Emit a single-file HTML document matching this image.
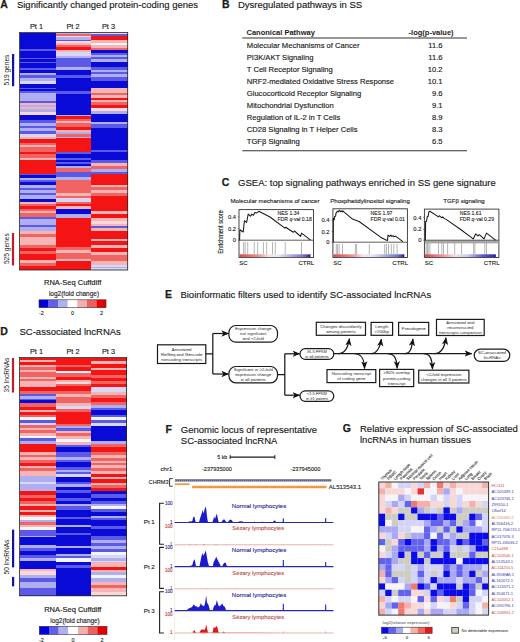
<!DOCTYPE html>
<html><head><meta charset="utf-8"><title>Figure</title>
<style>html,body{margin:0;padding:0;background:#fff;width:520px;height:642px;overflow:hidden;font-family:"Liberation Sans",sans-serif} svg{display:block}</style>
</head><body>
<svg width="520" height="642" viewBox="0 0 520 642" font-family="Liberation Sans, sans-serif"><text transform="translate(0.3,8.2)" font-size="10.5" font-weight="700" text-anchor="start" fill="#1a1a1a" stroke="#1a1a1a" stroke-width="0.25">A</text>
<text transform="translate(16.9,8.3)" font-size="9.5" font-weight="400" text-anchor="start" fill="#1a1a1a" stroke="#1a1a1a" stroke-width="0.15" >Significantly changed protein-coding genes</text>
<text transform="translate(36.5,28.8)" font-size="7.4" font-weight="400" text-anchor="middle" fill="#1a1a1a" stroke="#1a1a1a" stroke-width="0.14800000000000002" >Pt 1</text>
<text transform="translate(73,28.8)" font-size="7.4" font-weight="400" text-anchor="middle" fill="#1a1a1a" stroke="#1a1a1a" stroke-width="0.14800000000000002" >Pt 2</text>
<text transform="translate(108.5,28.8)" font-size="7.4" font-weight="400" text-anchor="middle" fill="#1a1a1a" stroke="#1a1a1a" stroke-width="0.14800000000000002" >Pt 3</text>
<rect x="19.5" y="32.5" width="36.2" height="16.7" fill="#0a0ad6" shape-rendering="crispEdges"/>
<rect x="19.5" y="49.2" width="36.2" height="1.8" fill="#5a5ae6" shape-rendering="crispEdges"/>
<rect x="19.5" y="51" width="36.2" height="6.8" fill="#0a0ad6" shape-rendering="crispEdges"/>
<rect x="19.5" y="57.8" width="36.2" height="1.2" fill="#5a5ae6" shape-rendering="crispEdges"/>
<rect x="19.5" y="59" width="36.2" height="3.2" fill="#0a0ad6" shape-rendering="crispEdges"/>
<rect x="19.5" y="62.2" width="36.2" height="1.0" fill="#5a5ae6" shape-rendering="crispEdges"/>
<rect x="19.5" y="63.2" width="36.2" height="4.3" fill="#0a0ad6" shape-rendering="crispEdges"/>
<rect x="19.5" y="67.5" width="36.2" height="2.2" fill="#5a5ae6" shape-rendering="crispEdges"/>
<rect x="19.5" y="69.7" width="36.2" height="3.3" fill="#0a0ad6" shape-rendering="crispEdges"/>
<rect x="19.5" y="73" width="36.2" height="2" fill="#aeaef0" shape-rendering="crispEdges"/>
<rect x="19.5" y="75" width="36.2" height="2.7" fill="#5a5ae6" shape-rendering="crispEdges"/>
<rect x="19.5" y="77.7" width="36.2" height="3.4" fill="#aeaef0" shape-rendering="crispEdges"/>
<rect x="19.5" y="81.1" width="36.2" height="2.6" fill="#d8d8f6" shape-rendering="crispEdges"/>
<rect x="19.5" y="83.7" width="36.2" height="3.9" fill="#0a0ad6" shape-rendering="crispEdges"/>
<rect x="19.5" y="87.6" width="36.2" height="1.4" fill="#5a5ae6" shape-rendering="crispEdges"/>
<rect x="19.5" y="89" width="36.2" height="2" fill="#0a0ad6" shape-rendering="crispEdges"/>
<rect x="19.5" y="91" width="36.2" height="2.2" fill="#5a5ae6" shape-rendering="crispEdges"/>
<rect x="19.5" y="93.2" width="36.2" height="7.5" fill="#aeaef0" shape-rendering="crispEdges"/>
<rect x="19.5" y="100.7" width="36.2" height="2.1" fill="#5a5ae6" shape-rendering="crispEdges"/>
<rect x="19.5" y="102.8" width="36.2" height="2.2" fill="#f6b4b4" shape-rendering="crispEdges"/>
<rect x="19.5" y="105" width="36.2" height="2.2" fill="#aeaef0" shape-rendering="crispEdges"/>
<rect x="19.5" y="107.2" width="36.2" height="2.1" fill="#f6b4b4" shape-rendering="crispEdges"/>
<rect x="19.5" y="109.3" width="36.2" height="2.2" fill="#aeaef0" shape-rendering="crispEdges"/>
<rect x="19.5" y="111.5" width="36.2" height="3.2" fill="#f8d8d8" shape-rendering="crispEdges"/>
<rect x="19.5" y="114.7" width="36.2" height="5.3" fill="#0a0ad6" shape-rendering="crispEdges"/>
<rect x="19.5" y="120" width="36.2" height="3.3" fill="#5a5ae6" shape-rendering="crispEdges"/>
<rect x="19.5" y="123.3" width="36.2" height="2.2" fill="#aeaef0" shape-rendering="crispEdges"/>
<rect x="19.5" y="125.5" width="36.2" height="2.1" fill="#5a5ae6" shape-rendering="crispEdges"/>
<rect x="19.5" y="127.6" width="36.2" height="3.2" fill="#aeaef0" shape-rendering="crispEdges"/>
<rect x="19.5" y="130.8" width="36.2" height="3.2" fill="#5a5ae6" shape-rendering="crispEdges"/>
<rect x="19.5" y="134" width="36.2" height="2.7" fill="#d8d8f6" shape-rendering="crispEdges"/>
<rect x="19.5" y="136.7" width="36.2" height="2.1" fill="#f6b4b4" shape-rendering="crispEdges"/>
<rect x="19.5" y="138.8" width="36.2" height="3.9" fill="#f41414" shape-rendering="crispEdges"/>
<rect x="19.5" y="142.7" width="36.2" height="2.1" fill="#f06464" shape-rendering="crispEdges"/>
<rect x="19.5" y="144.8" width="36.2" height="2.6" fill="#f6b4b4" shape-rendering="crispEdges"/>
<rect x="19.5" y="147.4" width="36.2" height="2.6" fill="#f06464" shape-rendering="crispEdges"/>
<rect x="19.5" y="150" width="36.2" height="2.2" fill="#f06464" shape-rendering="crispEdges"/>
<rect x="19.5" y="152.2" width="36.2" height="2.1" fill="#f41414" shape-rendering="crispEdges"/>
<rect x="19.5" y="154.3" width="36.2" height="3.2" fill="#f06464" shape-rendering="crispEdges"/>
<rect x="19.5" y="157.5" width="36.2" height="2.2" fill="#f6b4b4" shape-rendering="crispEdges"/>
<rect x="19.5" y="159.7" width="36.2" height="14.0" fill="#f41414" shape-rendering="crispEdges"/>
<rect x="19.5" y="173.7" width="36.2" height="1.7" fill="#5a5ae6" shape-rendering="crispEdges"/>
<rect x="19.5" y="175.4" width="36.2" height="2.2" fill="#0a0ad6" shape-rendering="crispEdges"/>
<rect x="19.5" y="177.6" width="36.2" height="2.6" fill="#aeaef0" shape-rendering="crispEdges"/>
<rect x="19.5" y="180.2" width="36.2" height="2.1" fill="#5a5ae6" shape-rendering="crispEdges"/>
<rect x="19.5" y="182.3" width="36.2" height="2.6" fill="#0a0ad6" shape-rendering="crispEdges"/>
<rect x="19.5" y="184.9" width="36.2" height="2.8" fill="#aeaef0" shape-rendering="crispEdges"/>
<rect x="19.5" y="187.7" width="36.2" height="2.1" fill="#5a5ae6" shape-rendering="crispEdges"/>
<rect x="19.5" y="189.8" width="36.2" height="3.3" fill="#aeaef0" shape-rendering="crispEdges"/>
<rect x="19.5" y="193.1" width="36.2" height="1.4" fill="#5a5ae6" shape-rendering="crispEdges"/>
<rect x="19.5" y="194.5" width="36.2" height="4.0" fill="#aeaef0" shape-rendering="crispEdges"/>
<rect x="19.5" y="198.5" width="36.2" height="3.3" fill="#0a0ad6" shape-rendering="crispEdges"/>
<rect x="19.5" y="201.8" width="36.2" height="2.0" fill="#f6b4b4" shape-rendering="crispEdges"/>
<rect x="19.5" y="203.8" width="36.2" height="2.6" fill="#f06464" shape-rendering="crispEdges"/>
<rect x="19.5" y="206.4" width="36.2" height="2.6" fill="#f41414" shape-rendering="crispEdges"/>
<rect x="19.5" y="209" width="36.2" height="2.2" fill="#f06464" shape-rendering="crispEdges"/>
<rect x="19.5" y="211.2" width="36.2" height="2.1" fill="#f6b4b4" shape-rendering="crispEdges"/>
<rect x="19.5" y="213.3" width="36.2" height="3.9" fill="#f06464" shape-rendering="crispEdges"/>
<rect x="19.5" y="217.2" width="36.2" height="2.1" fill="#5a5ae6" shape-rendering="crispEdges"/>
<rect x="19.5" y="219.3" width="36.2" height="5.9" fill="#aeaef0" shape-rendering="crispEdges"/>
<rect x="19.5" y="225.2" width="36.2" height="2.1" fill="#5a5ae6" shape-rendering="crispEdges"/>
<rect x="19.5" y="227.3" width="36.2" height="3.2" fill="#aeaef0" shape-rendering="crispEdges"/>
<rect x="19.5" y="230.5" width="36.2" height="3.9" fill="#f6b4b4" shape-rendering="crispEdges"/>
<rect x="19.5" y="234.4" width="36.2" height="2.6" fill="#f06464" shape-rendering="crispEdges"/>
<rect x="19.5" y="237" width="36.2" height="7.5" fill="#f6b4b4" shape-rendering="crispEdges"/>
<rect x="19.5" y="244.5" width="36.2" height="3.3" fill="#f06464" shape-rendering="crispEdges"/>
<rect x="19.5" y="247.8" width="36.2" height="3.2" fill="#f41414" shape-rendering="crispEdges"/>
<rect x="19.5" y="251" width="36.2" height="3.2" fill="#f06464" shape-rendering="crispEdges"/>
<rect x="19.5" y="254.2" width="36.2" height="5.4" fill="#f41414" shape-rendering="crispEdges"/>
<rect x="19.5" y="259.6" width="36.2" height="3.2" fill="#f6b4b4" shape-rendering="crispEdges"/>
<rect x="19.5" y="262.8" width="36.2" height="3.2" fill="#f06464" shape-rendering="crispEdges"/>
<rect x="19.5" y="266" width="36.2" height="4" fill="#f41414" shape-rendering="crispEdges"/>
<rect x="55.7" y="32.5" width="35.4" height="1.2" fill="#aeaef0" shape-rendering="crispEdges"/>
<rect x="55.7" y="33.7" width="35.4" height="2.2" fill="#f06464" shape-rendering="crispEdges"/>
<rect x="55.7" y="35.9" width="35.4" height="1.5" fill="#f8d8d8" shape-rendering="crispEdges"/>
<rect x="55.7" y="37.4" width="35.4" height="2.1" fill="#aeaef0" shape-rendering="crispEdges"/>
<rect x="55.7" y="39.5" width="35.4" height="1.5" fill="#5a5ae6" shape-rendering="crispEdges"/>
<rect x="55.7" y="41" width="35.4" height="2.2" fill="#f8d8d8" shape-rendering="crispEdges"/>
<rect x="55.7" y="43.2" width="35.4" height="1.8" fill="#f6b4b4" shape-rendering="crispEdges"/>
<rect x="55.7" y="45" width="35.4" height="1.6" fill="#f06464" shape-rendering="crispEdges"/>
<rect x="55.7" y="46.6" width="35.4" height="3.7" fill="#f41414" shape-rendering="crispEdges"/>
<rect x="55.7" y="50.3" width="35.4" height="1.5" fill="#f6b4b4" shape-rendering="crispEdges"/>
<rect x="55.7" y="51.8" width="35.4" height="3.9" fill="#d8d8f6" shape-rendering="crispEdges"/>
<rect x="55.7" y="55.7" width="35.4" height="2.1" fill="#aeaef0" shape-rendering="crispEdges"/>
<rect x="55.7" y="57.8" width="35.4" height="8.7" fill="#5a5ae6" shape-rendering="crispEdges"/>
<rect x="55.7" y="66.5" width="35.4" height="3.2" fill="#aeaef0" shape-rendering="crispEdges"/>
<rect x="55.7" y="69.7" width="35.4" height="5.3" fill="#0a0ad6" shape-rendering="crispEdges"/>
<rect x="55.7" y="75" width="35.4" height="2.7" fill="#5a5ae6" shape-rendering="crispEdges"/>
<rect x="55.7" y="77.7" width="35.4" height="13.3" fill="#0a0ad6" shape-rendering="crispEdges"/>
<rect x="55.7" y="91" width="35.4" height="3.2" fill="#5a5ae6" shape-rendering="crispEdges"/>
<rect x="55.7" y="94.2" width="35.4" height="20.5" fill="#0a0ad6" shape-rendering="crispEdges"/>
<rect x="55.7" y="114.7" width="35.4" height="1.7" fill="#aeaef0" shape-rendering="crispEdges"/>
<rect x="55.7" y="116.4" width="35.4" height="2.6" fill="#f41414" shape-rendering="crispEdges"/>
<rect x="55.7" y="119" width="35.4" height="2.2" fill="#f06464" shape-rendering="crispEdges"/>
<rect x="55.7" y="121.2" width="35.4" height="2.1" fill="#f6b4b4" shape-rendering="crispEdges"/>
<rect x="55.7" y="123.3" width="35.4" height="3.2" fill="#f06464" shape-rendering="crispEdges"/>
<rect x="55.7" y="126.5" width="35.4" height="3.3" fill="#f41414" shape-rendering="crispEdges"/>
<rect x="55.7" y="129.8" width="35.4" height="2.6" fill="#f6b4b4" shape-rendering="crispEdges"/>
<rect x="55.7" y="132.4" width="35.4" height="1.6" fill="#aeaef0" shape-rendering="crispEdges"/>
<rect x="55.7" y="134" width="35.4" height="2.7" fill="#f06464" shape-rendering="crispEdges"/>
<rect x="55.7" y="136.7" width="35.4" height="1.7" fill="#aeaef0" shape-rendering="crispEdges"/>
<rect x="55.7" y="138.4" width="35.4" height="11.6" fill="#f41414" shape-rendering="crispEdges"/>
<rect x="55.7" y="150" width="35.4" height="2.2" fill="#f41414" shape-rendering="crispEdges"/>
<rect x="55.7" y="152.2" width="35.4" height="2.1" fill="#5a5ae6" shape-rendering="crispEdges"/>
<rect x="55.7" y="154.3" width="35.4" height="3.2" fill="#0a0ad6" shape-rendering="crispEdges"/>
<rect x="55.7" y="157.5" width="35.4" height="2.2" fill="#5a5ae6" shape-rendering="crispEdges"/>
<rect x="55.7" y="159.7" width="35.4" height="2.1" fill="#0a0ad6" shape-rendering="crispEdges"/>
<rect x="55.7" y="161.8" width="35.4" height="2.2" fill="#5a5ae6" shape-rendering="crispEdges"/>
<rect x="55.7" y="164" width="35.4" height="2.2" fill="#0a0ad6" shape-rendering="crispEdges"/>
<rect x="55.7" y="166.2" width="35.4" height="2.1" fill="#aeaef0" shape-rendering="crispEdges"/>
<rect x="55.7" y="168.3" width="35.4" height="3.2" fill="#f06464" shape-rendering="crispEdges"/>
<rect x="55.7" y="171.5" width="35.4" height="5.5" fill="#5a5ae6" shape-rendering="crispEdges"/>
<rect x="55.7" y="177" width="35.4" height="3.2" fill="#aeaef0" shape-rendering="crispEdges"/>
<rect x="55.7" y="180.2" width="35.4" height="12.9" fill="#f06464" shape-rendering="crispEdges"/>
<rect x="55.7" y="193.1" width="35.4" height="2.6" fill="#f6b4b4" shape-rendering="crispEdges"/>
<rect x="55.7" y="195.7" width="35.4" height="2.1" fill="#f06464" shape-rendering="crispEdges"/>
<rect x="55.7" y="197.8" width="35.4" height="3.9" fill="#d8d8f6" shape-rendering="crispEdges"/>
<rect x="55.7" y="201.7" width="35.4" height="2.1" fill="#f06464" shape-rendering="crispEdges"/>
<rect x="55.7" y="203.8" width="35.4" height="2.6" fill="#f41414" shape-rendering="crispEdges"/>
<rect x="55.7" y="206.4" width="35.4" height="2.6" fill="#f6b4b4" shape-rendering="crispEdges"/>
<rect x="55.7" y="209" width="35.4" height="5.4" fill="#0a0ad6" shape-rendering="crispEdges"/>
<rect x="55.7" y="214.4" width="35.4" height="3.2" fill="#aeaef0" shape-rendering="crispEdges"/>
<rect x="55.7" y="217.6" width="35.4" height="29.1" fill="#f41414" shape-rendering="crispEdges"/>
<rect x="55.7" y="246.7" width="35.4" height="3.3" fill="#f06464" shape-rendering="crispEdges"/>
<rect x="55.7" y="250" width="35.4" height="3.2" fill="#f6b4b4" shape-rendering="crispEdges"/>
<rect x="55.7" y="253.2" width="35.4" height="5.3" fill="#f06464" shape-rendering="crispEdges"/>
<rect x="55.7" y="258.5" width="35.4" height="2.2" fill="#f6b4b4" shape-rendering="crispEdges"/>
<rect x="55.7" y="260.7" width="35.4" height="9.3" fill="#f41414" shape-rendering="crispEdges"/>
<rect x="91.1" y="32.5" width="36.6" height="1.2" fill="#f8d8d8" shape-rendering="crispEdges"/>
<rect x="91.1" y="33.7" width="36.6" height="2.6" fill="#5a5ae6" shape-rendering="crispEdges"/>
<rect x="91.1" y="36.3" width="36.6" height="3.9" fill="#f41414" shape-rendering="crispEdges"/>
<rect x="91.1" y="40.2" width="36.6" height="2.6" fill="#f6b4b4" shape-rendering="crispEdges"/>
<rect x="91.1" y="42.8" width="36.6" height="2.6" fill="#f4f4fb" shape-rendering="crispEdges"/>
<rect x="91.1" y="45.4" width="36.6" height="2.1" fill="#f6b4b4" shape-rendering="crispEdges"/>
<rect x="91.1" y="47.5" width="36.6" height="2.8" fill="#f06464" shape-rendering="crispEdges"/>
<rect x="91.1" y="50.3" width="36.6" height="2.2" fill="#0a0ad6" shape-rendering="crispEdges"/>
<rect x="91.1" y="52.5" width="36.6" height="2.1" fill="#5a5ae6" shape-rendering="crispEdges"/>
<rect x="91.1" y="54.6" width="36.6" height="2.2" fill="#aeaef0" shape-rendering="crispEdges"/>
<rect x="91.1" y="56.8" width="36.6" height="2.1" fill="#5a5ae6" shape-rendering="crispEdges"/>
<rect x="91.1" y="58.9" width="36.6" height="3.3" fill="#aeaef0" shape-rendering="crispEdges"/>
<rect x="91.1" y="62.2" width="36.6" height="4.3" fill="#0a0ad6" shape-rendering="crispEdges"/>
<rect x="91.1" y="66.5" width="36.6" height="3.2" fill="#5a5ae6" shape-rendering="crispEdges"/>
<rect x="91.1" y="69.7" width="36.6" height="2.1" fill="#aeaef0" shape-rendering="crispEdges"/>
<rect x="91.1" y="71.8" width="36.6" height="2.2" fill="#5a5ae6" shape-rendering="crispEdges"/>
<rect x="91.1" y="74" width="36.6" height="3.2" fill="#aeaef0" shape-rendering="crispEdges"/>
<rect x="91.1" y="77.2" width="36.6" height="3.3" fill="#5a5ae6" shape-rendering="crispEdges"/>
<rect x="91.1" y="80.5" width="36.6" height="7.5" fill="#0a0ad6" shape-rendering="crispEdges"/>
<rect x="91.1" y="88" width="36.6" height="3" fill="#f6b4b4" shape-rendering="crispEdges"/>
<rect x="91.1" y="91" width="36.6" height="1.7" fill="#f6b4b4" shape-rendering="crispEdges"/>
<rect x="91.1" y="92.7" width="36.6" height="2.6" fill="#f06464" shape-rendering="crispEdges"/>
<rect x="91.1" y="95.3" width="36.6" height="2.2" fill="#f6b4b4" shape-rendering="crispEdges"/>
<rect x="91.1" y="97.5" width="36.6" height="2.1" fill="#f41414" shape-rendering="crispEdges"/>
<rect x="91.1" y="99.6" width="36.6" height="2.2" fill="#f6b4b4" shape-rendering="crispEdges"/>
<rect x="91.1" y="101.8" width="36.6" height="3.2" fill="#f06464" shape-rendering="crispEdges"/>
<rect x="91.1" y="105" width="36.6" height="3.2" fill="#f41414" shape-rendering="crispEdges"/>
<rect x="91.1" y="108.2" width="36.6" height="2.6" fill="#f8d8d8" shape-rendering="crispEdges"/>
<rect x="91.1" y="110.8" width="36.6" height="3.5" fill="#aeaef0" shape-rendering="crispEdges"/>
<rect x="91.1" y="114.3" width="36.6" height="7.9" fill="#0a0ad6" shape-rendering="crispEdges"/>
<rect x="91.1" y="122.2" width="36.6" height="2.2" fill="#aeaef0" shape-rendering="crispEdges"/>
<rect x="91.1" y="124.4" width="36.6" height="3.2" fill="#5a5ae6" shape-rendering="crispEdges"/>
<rect x="91.1" y="127.6" width="36.6" height="22.4" fill="#0a0ad6" shape-rendering="crispEdges"/>
<rect x="91.1" y="150" width="36.6" height="1.7" fill="#5a5ae6" shape-rendering="crispEdges"/>
<rect x="91.1" y="151.7" width="36.6" height="3.7" fill="#0a0ad6" shape-rendering="crispEdges"/>
<rect x="91.1" y="155.4" width="36.6" height="4.3" fill="#0a0ad6" shape-rendering="crispEdges"/>
<rect x="91.1" y="159.7" width="36.6" height="3.2" fill="#5a5ae6" shape-rendering="crispEdges"/>
<rect x="91.1" y="162.9" width="36.6" height="3.3" fill="#f6b4b4" shape-rendering="crispEdges"/>
<rect x="91.1" y="166.2" width="36.6" height="2.8" fill="#f06464" shape-rendering="crispEdges"/>
<rect x="91.1" y="169" width="36.6" height="2.5" fill="#aeaef0" shape-rendering="crispEdges"/>
<rect x="91.1" y="171.5" width="36.6" height="2.6" fill="#5a5ae6" shape-rendering="crispEdges"/>
<rect x="91.1" y="174.1" width="36.6" height="10.4" fill="#f41414" shape-rendering="crispEdges"/>
<rect x="91.1" y="184.5" width="36.6" height="2.5" fill="#f6b4b4" shape-rendering="crispEdges"/>
<rect x="91.1" y="187" width="36.6" height="2.8" fill="#f06464" shape-rendering="crispEdges"/>
<rect x="91.1" y="189.8" width="36.6" height="3.3" fill="#f6b4b4" shape-rendering="crispEdges"/>
<rect x="91.1" y="193.1" width="36.6" height="2.6" fill="#f06464" shape-rendering="crispEdges"/>
<rect x="91.1" y="195.7" width="36.6" height="13.3" fill="#f41414" shape-rendering="crispEdges"/>
<rect x="91.1" y="209" width="36.6" height="2.2" fill="#f41414" shape-rendering="crispEdges"/>
<rect x="91.1" y="211.2" width="36.6" height="3.2" fill="#f6b4b4" shape-rendering="crispEdges"/>
<rect x="91.1" y="214.4" width="36.6" height="3.2" fill="#f41414" shape-rendering="crispEdges"/>
<rect x="91.1" y="217.6" width="36.6" height="3.2" fill="#f6b4b4" shape-rendering="crispEdges"/>
<rect x="91.1" y="220.8" width="36.6" height="3.3" fill="#f8d8d8" shape-rendering="crispEdges"/>
<rect x="91.1" y="224.1" width="36.6" height="2.1" fill="#f6b4b4" shape-rendering="crispEdges"/>
<rect x="91.1" y="226.2" width="36.6" height="2.2" fill="#5a5ae6" shape-rendering="crispEdges"/>
<rect x="91.1" y="228.4" width="36.6" height="2.1" fill="#f6b4b4" shape-rendering="crispEdges"/>
<rect x="91.1" y="230.5" width="36.6" height="8.7" fill="#f41414" shape-rendering="crispEdges"/>
<rect x="91.1" y="239.2" width="36.6" height="2.1" fill="#f6b4b4" shape-rendering="crispEdges"/>
<rect x="91.1" y="241.3" width="36.6" height="3.2" fill="#f41414" shape-rendering="crispEdges"/>
<rect x="91.1" y="244.5" width="36.6" height="3.3" fill="#f6b4b4" shape-rendering="crispEdges"/>
<rect x="91.1" y="247.8" width="36.6" height="4.3" fill="#f41414" shape-rendering="crispEdges"/>
<rect x="91.1" y="252.1" width="36.6" height="3.2" fill="#f6b4b4" shape-rendering="crispEdges"/>
<rect x="91.1" y="255.3" width="36.6" height="5.4" fill="#f06464" shape-rendering="crispEdges"/>
<rect x="91.1" y="260.7" width="36.6" height="4.7" fill="#f6b4b4" shape-rendering="crispEdges"/>
<rect x="91.1" y="265.4" width="36.6" height="1.2" fill="#d8d8f6" shape-rendering="crispEdges"/>
<rect x="91.1" y="266.6" width="36.6" height="1.8" fill="#aeaef0" shape-rendering="crispEdges"/>
<rect x="91.1" y="268.4" width="36.6" height="1.6" fill="#d8d8f6" shape-rendering="crispEdges"/>
<rect x="19.5" y="32.5" width="108.2" height="237.5" fill="none" stroke="#222" stroke-width="0.8" />
<rect x="12" y="54" width="2.2" height="32.2" fill="#14149a" />
<text transform="translate(9.3,70) rotate(-90)" font-size="6.6" text-anchor="middle" fill="#1a1a1a">519 genes</text>
<rect x="11.9" y="233" width="2.2" height="32.4" fill="#c41a2a" />
<text transform="translate(9.3,248.7) rotate(-90)" font-size="6.6" text-anchor="middle" fill="#1a1a1a">525 genes</text>
<text transform="translate(72.6,284.6)" font-size="7.5" font-weight="400" text-anchor="middle" fill="#1a1a1a" stroke="#1a1a1a" stroke-width="0.15" >RNA-Seq Cuffdiff</text>
<text transform="translate(74,296.4)" font-size="6.5" font-weight="400" text-anchor="middle" fill="#1a1a1a" stroke="#1a1a1a" stroke-width="0.13" >log2(fold change)</text>
<rect x="39.0" y="299.8" width="9.62" height="7.9" fill="#0000e0" />
<rect x="48.57" y="299.8" width="9.62" height="7.9" fill="#6060e8" />
<rect x="58.14" y="299.8" width="9.62" height="7.9" fill="#b0b0f0" />
<rect x="67.71" y="299.8" width="9.62" height="7.9" fill="#ffffff" />
<rect x="77.29" y="299.8" width="9.62" height="7.9" fill="#f4b0b0" />
<rect x="86.86" y="299.8" width="9.62" height="7.9" fill="#ec6060" />
<rect x="96.43" y="299.8" width="9.62" height="7.9" fill="#e60000" />
<rect x="39" y="299.8" width="67" height="7.9" fill="none" stroke="#333" stroke-width="0.6" />
<text transform="translate(41.4,314.7)" font-size="5.5" font-weight="400" text-anchor="middle" fill="#1a1a1a" stroke="#1a1a1a" stroke-width="0.11" >-2</text>
<text transform="translate(72.5,314.7)" font-size="5.5" font-weight="400" text-anchor="middle" fill="#1a1a1a" stroke="#1a1a1a" stroke-width="0.11" >0</text>
<text transform="translate(101.5,314.7)" font-size="5.5" font-weight="400" text-anchor="middle" fill="#1a1a1a" stroke="#1a1a1a" stroke-width="0.11" >2</text>
<text transform="translate(0.3,334.5)" font-size="10.5" font-weight="700" text-anchor="start" fill="#1a1a1a" stroke="#1a1a1a" stroke-width="0.25">D</text>
<text transform="translate(19.5,334.5)" font-size="9.5" font-weight="400" text-anchor="start" fill="#1a1a1a" stroke="#1a1a1a" stroke-width="0.15" >SC-associated lncRNAs</text>
<text transform="translate(36.5,353.8)" font-size="7.4" font-weight="400" text-anchor="middle" fill="#1a1a1a" stroke="#1a1a1a" stroke-width="0.14800000000000002" >Pt 1</text>
<text transform="translate(73,353.8)" font-size="7.4" font-weight="400" text-anchor="middle" fill="#1a1a1a" stroke="#1a1a1a" stroke-width="0.14800000000000002" >Pt 2</text>
<text transform="translate(108.5,353.8)" font-size="7.4" font-weight="400" text-anchor="middle" fill="#1a1a1a" stroke="#1a1a1a" stroke-width="0.14800000000000002" >Pt 3</text>
<rect x="19.5" y="357.5" width="36.2" height="2.8" fill="#f41414" shape-rendering="crispEdges"/>
<rect x="19.5" y="360.3" width="36.2" height="1.7" fill="#f6b4b4" shape-rendering="crispEdges"/>
<rect x="19.5" y="362" width="36.2" height="3" fill="#f41414" shape-rendering="crispEdges"/>
<rect x="19.5" y="365" width="36.2" height="1.8" fill="#f6b4b4" shape-rendering="crispEdges"/>
<rect x="19.5" y="366.8" width="36.2" height="3.2" fill="#f06464" shape-rendering="crispEdges"/>
<rect x="19.5" y="370" width="36.2" height="2.2" fill="#f6b4b4" shape-rendering="crispEdges"/>
<rect x="19.5" y="372.2" width="36.2" height="4.3" fill="#f06464" shape-rendering="crispEdges"/>
<rect x="19.5" y="376.5" width="36.2" height="2.1" fill="#f6b4b4" shape-rendering="crispEdges"/>
<rect x="19.5" y="378.6" width="36.2" height="2.2" fill="#f06464" shape-rendering="crispEdges"/>
<rect x="19.5" y="380.8" width="36.2" height="6.4" fill="#f6b4b4" shape-rendering="crispEdges"/>
<rect x="19.5" y="387.2" width="36.2" height="3.3" fill="#f41414" shape-rendering="crispEdges"/>
<rect x="19.5" y="390.5" width="36.2" height="3.2" fill="#f06464" shape-rendering="crispEdges"/>
<rect x="19.5" y="393.7" width="36.2" height="2.3" fill="#5a5ae6" shape-rendering="crispEdges"/>
<rect x="19.5" y="396" width="36.2" height="2.5" fill="#aeaef0" shape-rendering="crispEdges"/>
<rect x="19.5" y="398.5" width="36.2" height="1.7" fill="#5a5ae6" shape-rendering="crispEdges"/>
<rect x="19.5" y="400.2" width="36.2" height="2.8" fill="#0a0ad6" shape-rendering="crispEdges"/>
<rect x="19.5" y="403" width="36.2" height="3.6" fill="#f06464" shape-rendering="crispEdges"/>
<rect x="19.5" y="406.6" width="36.2" height="3.2" fill="#f41414" shape-rendering="crispEdges"/>
<rect x="19.5" y="409.8" width="36.2" height="2.6" fill="#f6b4b4" shape-rendering="crispEdges"/>
<rect x="19.5" y="412.4" width="36.2" height="2.6" fill="#f41414" shape-rendering="crispEdges"/>
<rect x="19.5" y="415" width="36.2" height="2.2" fill="#f06464" shape-rendering="crispEdges"/>
<rect x="19.5" y="417.2" width="36.2" height="3.2" fill="#f4f4fb" shape-rendering="crispEdges"/>
<rect x="19.5" y="420.4" width="36.2" height="2.1" fill="#5a5ae6" shape-rendering="crispEdges"/>
<rect x="19.5" y="422.5" width="36.2" height="2.8" fill="#d8d8f6" shape-rendering="crispEdges"/>
<rect x="19.5" y="425.3" width="36.2" height="2.6" fill="#f06464" shape-rendering="crispEdges"/>
<rect x="19.5" y="427.9" width="36.2" height="2.2" fill="#f6b4b4" shape-rendering="crispEdges"/>
<rect x="19.5" y="430.1" width="36.2" height="3.2" fill="#f06464" shape-rendering="crispEdges"/>
<rect x="19.5" y="433.3" width="36.2" height="2.2" fill="#f6b4b4" shape-rendering="crispEdges"/>
<rect x="19.5" y="435.5" width="36.2" height="2.8" fill="#f4f4fb" shape-rendering="crispEdges"/>
<rect x="19.5" y="438.3" width="36.2" height="2.5" fill="#5a5ae6" shape-rendering="crispEdges"/>
<rect x="19.5" y="440.8" width="36.2" height="3.3" fill="#aeaef0" shape-rendering="crispEdges"/>
<rect x="19.5" y="444.1" width="36.2" height="7.5" fill="#f41414" shape-rendering="crispEdges"/>
<rect x="19.5" y="451.6" width="36.2" height="3.2" fill="#f6b4b4" shape-rendering="crispEdges"/>
<rect x="19.5" y="454.8" width="36.2" height="2.2" fill="#f06464" shape-rendering="crispEdges"/>
<rect x="19.5" y="457" width="36.2" height="3.2" fill="#f6b4b4" shape-rendering="crispEdges"/>
<rect x="19.5" y="460.2" width="36.2" height="2.6" fill="#f06464" shape-rendering="crispEdges"/>
<rect x="19.5" y="462.8" width="36.2" height="2.8" fill="#f41414" shape-rendering="crispEdges"/>
<rect x="19.5" y="465.6" width="36.2" height="2.2" fill="#f6b4b4" shape-rendering="crispEdges"/>
<rect x="19.5" y="467.8" width="36.2" height="2.8" fill="#f06464" shape-rendering="crispEdges"/>
<rect x="19.5" y="470.6" width="36.2" height="3.4" fill="#f6b4b4" shape-rendering="crispEdges"/>
<rect x="19.5" y="474" width="36.2" height="2.2" fill="#f6b4b4" shape-rendering="crispEdges"/>
<rect x="19.5" y="476.2" width="36.2" height="5.3" fill="#aeaef0" shape-rendering="crispEdges"/>
<rect x="19.5" y="481.5" width="36.2" height="2.8" fill="#d8d8f6" shape-rendering="crispEdges"/>
<rect x="19.5" y="484.3" width="36.2" height="6.5" fill="#aeaef0" shape-rendering="crispEdges"/>
<rect x="19.5" y="490.8" width="36.2" height="3.7" fill="#f41414" shape-rendering="crispEdges"/>
<rect x="19.5" y="494.5" width="36.2" height="3.2" fill="#f06464" shape-rendering="crispEdges"/>
<rect x="19.5" y="497.7" width="36.2" height="3.2" fill="#f41414" shape-rendering="crispEdges"/>
<rect x="19.5" y="500.9" width="36.2" height="3.3" fill="#f06464" shape-rendering="crispEdges"/>
<rect x="19.5" y="504.2" width="36.2" height="2.1" fill="#f6b4b4" shape-rendering="crispEdges"/>
<rect x="19.5" y="506.3" width="36.2" height="3.2" fill="#f41414" shape-rendering="crispEdges"/>
<rect x="19.5" y="509.5" width="36.2" height="2.8" fill="#f6b4b4" shape-rendering="crispEdges"/>
<rect x="19.5" y="512.3" width="36.2" height="2.2" fill="#f41414" shape-rendering="crispEdges"/>
<rect x="19.5" y="514.5" width="36.2" height="2.6" fill="#f6b4b4" shape-rendering="crispEdges"/>
<rect x="19.5" y="517.1" width="36.2" height="2.6" fill="#f4f4fb" shape-rendering="crispEdges"/>
<rect x="19.5" y="519.7" width="36.2" height="2.1" fill="#aeaef0" shape-rendering="crispEdges"/>
<rect x="19.5" y="521.8" width="36.2" height="2.8" fill="#f06464" shape-rendering="crispEdges"/>
<rect x="19.5" y="524.6" width="36.2" height="2.8" fill="#f6b4b4" shape-rendering="crispEdges"/>
<rect x="19.5" y="527.4" width="36.2" height="2.6" fill="#f4f4fb" shape-rendering="crispEdges"/>
<rect x="19.5" y="530" width="36.2" height="3" fill="#5a5ae6" shape-rendering="crispEdges"/>
<rect x="19.5" y="533" width="36.2" height="2.6" fill="#5a5ae6" shape-rendering="crispEdges"/>
<rect x="19.5" y="535.6" width="36.2" height="1.7" fill="#aeaef0" shape-rendering="crispEdges"/>
<rect x="19.5" y="537.3" width="36.2" height="7.5" fill="#0a0ad6" shape-rendering="crispEdges"/>
<rect x="19.5" y="544.8" width="36.2" height="3.3" fill="#aeaef0" shape-rendering="crispEdges"/>
<rect x="19.5" y="548.1" width="36.2" height="3.2" fill="#5a5ae6" shape-rendering="crispEdges"/>
<rect x="19.5" y="551.3" width="36.2" height="3.2" fill="#0a0ad6" shape-rendering="crispEdges"/>
<rect x="19.5" y="554.5" width="36.2" height="3.3" fill="#5a5ae6" shape-rendering="crispEdges"/>
<rect x="19.5" y="557.8" width="36.2" height="3.2" fill="#aeaef0" shape-rendering="crispEdges"/>
<rect x="19.5" y="561" width="36.2" height="7.5" fill="#0a0ad6" shape-rendering="crispEdges"/>
<rect x="19.5" y="568.5" width="36.2" height="2.2" fill="#f6b4b4" shape-rendering="crispEdges"/>
<rect x="19.5" y="570.7" width="36.2" height="4.3" fill="#f8d8d8" shape-rendering="crispEdges"/>
<rect x="19.5" y="575" width="36.2" height="3.2" fill="#aeaef0" shape-rendering="crispEdges"/>
<rect x="19.5" y="578.2" width="36.2" height="3.3" fill="#5a5ae6" shape-rendering="crispEdges"/>
<rect x="19.5" y="581.5" width="36.2" height="6.4" fill="#aeaef0" shape-rendering="crispEdges"/>
<rect x="19.5" y="587.9" width="36.2" height="7.9" fill="#5a5ae6" shape-rendering="crispEdges"/>
<rect x="55.7" y="357.5" width="35.4" height="7.1" fill="#f41414" shape-rendering="crispEdges"/>
<rect x="55.7" y="364.6" width="35.4" height="2.6" fill="#f06464" shape-rendering="crispEdges"/>
<rect x="55.7" y="367.2" width="35.4" height="3.9" fill="#f41414" shape-rendering="crispEdges"/>
<rect x="55.7" y="371.1" width="35.4" height="2.1" fill="#f4f4fb" shape-rendering="crispEdges"/>
<rect x="55.7" y="373.2" width="35.4" height="3.3" fill="#f06464" shape-rendering="crispEdges"/>
<rect x="55.7" y="376.5" width="35.4" height="3.2" fill="#f41414" shape-rendering="crispEdges"/>
<rect x="55.7" y="379.7" width="35.4" height="2.1" fill="#f6b4b4" shape-rendering="crispEdges"/>
<rect x="55.7" y="381.8" width="35.4" height="2.2" fill="#f8d8d8" shape-rendering="crispEdges"/>
<rect x="55.7" y="384" width="35.4" height="2.2" fill="#f06464" shape-rendering="crispEdges"/>
<rect x="55.7" y="386.2" width="35.4" height="4.3" fill="#f41414" shape-rendering="crispEdges"/>
<rect x="55.7" y="390.5" width="35.4" height="3.2" fill="#f06464" shape-rendering="crispEdges"/>
<rect x="55.7" y="393.7" width="35.4" height="3.2" fill="#f6b4b4" shape-rendering="crispEdges"/>
<rect x="55.7" y="396.9" width="35.4" height="6.5" fill="#f06464" shape-rendering="crispEdges"/>
<rect x="55.7" y="403.4" width="35.4" height="2.6" fill="#f6b4b4" shape-rendering="crispEdges"/>
<rect x="55.7" y="406" width="35.4" height="2.8" fill="#d8d8f6" shape-rendering="crispEdges"/>
<rect x="55.7" y="408.8" width="35.4" height="3.6" fill="#f06464" shape-rendering="crispEdges"/>
<rect x="55.7" y="412.4" width="35.4" height="11.2" fill="#f41414" shape-rendering="crispEdges"/>
<rect x="55.7" y="423.6" width="35.4" height="2.2" fill="#f06464" shape-rendering="crispEdges"/>
<rect x="55.7" y="425.8" width="35.4" height="2.6" fill="#aeaef0" shape-rendering="crispEdges"/>
<rect x="55.7" y="428.4" width="35.4" height="2.1" fill="#5a5ae6" shape-rendering="crispEdges"/>
<rect x="55.7" y="430.5" width="35.4" height="2.2" fill="#f6b4b4" shape-rendering="crispEdges"/>
<rect x="55.7" y="432.7" width="35.4" height="2.8" fill="#f06464" shape-rendering="crispEdges"/>
<rect x="55.7" y="435.5" width="35.4" height="3.2" fill="#f6b4b4" shape-rendering="crispEdges"/>
<rect x="55.7" y="438.7" width="35.4" height="3.2" fill="#f4f4fb" shape-rendering="crispEdges"/>
<rect x="55.7" y="441.9" width="35.4" height="2.8" fill="#f6b4b4" shape-rendering="crispEdges"/>
<rect x="55.7" y="444.7" width="35.4" height="2.6" fill="#5a5ae6" shape-rendering="crispEdges"/>
<rect x="55.7" y="447.3" width="35.4" height="4.3" fill="#0a0ad6" shape-rendering="crispEdges"/>
<rect x="55.7" y="451.6" width="35.4" height="5.4" fill="#5a5ae6" shape-rendering="crispEdges"/>
<rect x="55.7" y="457" width="35.4" height="3.2" fill="#aeaef0" shape-rendering="crispEdges"/>
<rect x="55.7" y="460.2" width="35.4" height="2.2" fill="#5a5ae6" shape-rendering="crispEdges"/>
<rect x="55.7" y="462.4" width="35.4" height="4.3" fill="#0a0ad6" shape-rendering="crispEdges"/>
<rect x="55.7" y="466.7" width="35.4" height="3.2" fill="#5a5ae6" shape-rendering="crispEdges"/>
<rect x="55.7" y="469.9" width="35.4" height="2.2" fill="#aeaef0" shape-rendering="crispEdges"/>
<rect x="55.7" y="472.1" width="35.4" height="1.9" fill="#5a5ae6" shape-rendering="crispEdges"/>
<rect x="55.7" y="474" width="35.4" height="2.6" fill="#d8d8f6" shape-rendering="crispEdges"/>
<rect x="55.7" y="476.6" width="35.4" height="4.9" fill="#0a0ad6" shape-rendering="crispEdges"/>
<rect x="55.7" y="481.5" width="35.4" height="2.8" fill="#5a5ae6" shape-rendering="crispEdges"/>
<rect x="55.7" y="484.3" width="35.4" height="3.1" fill="#aeaef0" shape-rendering="crispEdges"/>
<rect x="55.7" y="487.4" width="35.4" height="2.8" fill="#0a0ad6" shape-rendering="crispEdges"/>
<rect x="55.7" y="490.2" width="35.4" height="3.2" fill="#5a5ae6" shape-rendering="crispEdges"/>
<rect x="55.7" y="493.4" width="35.4" height="4.3" fill="#0a0ad6" shape-rendering="crispEdges"/>
<rect x="55.7" y="497.7" width="35.4" height="3.2" fill="#5a5ae6" shape-rendering="crispEdges"/>
<rect x="55.7" y="500.9" width="35.4" height="2.8" fill="#0a0ad6" shape-rendering="crispEdges"/>
<rect x="55.7" y="503.7" width="35.4" height="2.2" fill="#aeaef0" shape-rendering="crispEdges"/>
<rect x="55.7" y="505.9" width="35.4" height="3.6" fill="#5a5ae6" shape-rendering="crispEdges"/>
<rect x="55.7" y="509.5" width="35.4" height="7.6" fill="#0a0ad6" shape-rendering="crispEdges"/>
<rect x="55.7" y="517.1" width="35.4" height="2.1" fill="#5a5ae6" shape-rendering="crispEdges"/>
<rect x="55.7" y="519.2" width="35.4" height="5.4" fill="#0a0ad6" shape-rendering="crispEdges"/>
<rect x="55.7" y="524.6" width="35.4" height="2.2" fill="#aeaef0" shape-rendering="crispEdges"/>
<rect x="55.7" y="526.8" width="35.4" height="6.2" fill="#0a0ad6" shape-rendering="crispEdges"/>
<rect x="55.7" y="533" width="35.4" height="2.2" fill="#5a5ae6" shape-rendering="crispEdges"/>
<rect x="55.7" y="535.2" width="35.4" height="10.7" fill="#0a0ad6" shape-rendering="crispEdges"/>
<rect x="55.7" y="545.9" width="35.4" height="2.2" fill="#aeaef0" shape-rendering="crispEdges"/>
<rect x="55.7" y="548.1" width="35.4" height="5.4" fill="#0a0ad6" shape-rendering="crispEdges"/>
<rect x="55.7" y="553.5" width="35.4" height="2.1" fill="#aeaef0" shape-rendering="crispEdges"/>
<rect x="55.7" y="555.6" width="35.4" height="2.2" fill="#5a5ae6" shape-rendering="crispEdges"/>
<rect x="55.7" y="557.8" width="35.4" height="4.3" fill="#f4f4fb" shape-rendering="crispEdges"/>
<rect x="55.7" y="562.1" width="35.4" height="3.2" fill="#0a0ad6" shape-rendering="crispEdges"/>
<rect x="55.7" y="565.3" width="35.4" height="2.2" fill="#5a5ae6" shape-rendering="crispEdges"/>
<rect x="55.7" y="567.5" width="35.4" height="28.3" fill="#0a0ad6" shape-rendering="crispEdges"/>
<rect x="91.1" y="357.5" width="35.5" height="3.2" fill="#f41414" shape-rendering="crispEdges"/>
<rect x="91.1" y="360.7" width="35.5" height="2.8" fill="#f6b4b4" shape-rendering="crispEdges"/>
<rect x="91.1" y="363.5" width="35.5" height="4.3" fill="#f41414" shape-rendering="crispEdges"/>
<rect x="91.1" y="367.8" width="35.5" height="2.2" fill="#f6b4b4" shape-rendering="crispEdges"/>
<rect x="91.1" y="370" width="35.5" height="5.4" fill="#f41414" shape-rendering="crispEdges"/>
<rect x="91.1" y="375.4" width="35.5" height="2.1" fill="#f06464" shape-rendering="crispEdges"/>
<rect x="91.1" y="377.5" width="35.5" height="3.9" fill="#f41414" shape-rendering="crispEdges"/>
<rect x="91.1" y="381.4" width="35.5" height="2.6" fill="#f06464" shape-rendering="crispEdges"/>
<rect x="91.1" y="384" width="35.5" height="3.2" fill="#f41414" shape-rendering="crispEdges"/>
<rect x="91.1" y="387.2" width="35.5" height="4.3" fill="#d8d8f6" shape-rendering="crispEdges"/>
<rect x="91.1" y="391.5" width="35.5" height="3.3" fill="#f6b4b4" shape-rendering="crispEdges"/>
<rect x="91.1" y="394.8" width="35.5" height="3.2" fill="#f06464" shape-rendering="crispEdges"/>
<rect x="91.1" y="398" width="35.5" height="4.3" fill="#f41414" shape-rendering="crispEdges"/>
<rect x="91.1" y="402.3" width="35.5" height="2.8" fill="#f06464" shape-rendering="crispEdges"/>
<rect x="91.1" y="405.1" width="35.5" height="2.6" fill="#aeaef0" shape-rendering="crispEdges"/>
<rect x="91.1" y="407.7" width="35.5" height="2.1" fill="#5a5ae6" shape-rendering="crispEdges"/>
<rect x="91.1" y="409.8" width="35.5" height="5.2" fill="#0a0ad6" shape-rendering="crispEdges"/>
<rect x="91.1" y="415" width="35.5" height="1.7" fill="#5a5ae6" shape-rendering="crispEdges"/>
<rect x="91.1" y="416.7" width="35.5" height="3.7" fill="#f4f4fb" shape-rendering="crispEdges"/>
<rect x="91.1" y="420.4" width="35.5" height="2.1" fill="#5a5ae6" shape-rendering="crispEdges"/>
<rect x="91.1" y="422.5" width="35.5" height="3.3" fill="#d8d8f6" shape-rendering="crispEdges"/>
<rect x="91.1" y="425.8" width="35.5" height="15.0" fill="#0a0ad6" shape-rendering="crispEdges"/>
<rect x="91.1" y="440.8" width="35.5" height="3.3" fill="#aeaef0" shape-rendering="crispEdges"/>
<rect x="91.1" y="444.1" width="35.5" height="3.2" fill="#f06464" shape-rendering="crispEdges"/>
<rect x="91.1" y="447.3" width="35.5" height="4.3" fill="#f41414" shape-rendering="crispEdges"/>
<rect x="91.1" y="451.6" width="35.5" height="3.2" fill="#f06464" shape-rendering="crispEdges"/>
<rect x="91.1" y="454.8" width="35.5" height="3.3" fill="#f6b4b4" shape-rendering="crispEdges"/>
<rect x="91.1" y="458.1" width="35.5" height="2.6" fill="#f06464" shape-rendering="crispEdges"/>
<rect x="91.1" y="460.7" width="35.5" height="2.3" fill="#f6b4b4" shape-rendering="crispEdges"/>
<rect x="91.1" y="463" width="35.5" height="2" fill="#f06464" shape-rendering="crispEdges"/>
<rect x="91.1" y="465" width="35.5" height="2.8" fill="#f6b4b4" shape-rendering="crispEdges"/>
<rect x="91.1" y="467.8" width="35.5" height="3.2" fill="#f06464" shape-rendering="crispEdges"/>
<rect x="91.1" y="471" width="35.5" height="3" fill="#f6b4b4" shape-rendering="crispEdges"/>
<rect x="91.1" y="474" width="35.5" height="3.2" fill="#f41414" shape-rendering="crispEdges"/>
<rect x="91.1" y="477.2" width="35.5" height="2.2" fill="#f6b4b4" shape-rendering="crispEdges"/>
<rect x="91.1" y="479.4" width="35.5" height="3.2" fill="#f41414" shape-rendering="crispEdges"/>
<rect x="91.1" y="482.6" width="35.5" height="2.2" fill="#f6b4b4" shape-rendering="crispEdges"/>
<rect x="91.1" y="484.8" width="35.5" height="3.2" fill="#f06464" shape-rendering="crispEdges"/>
<rect x="91.1" y="488" width="35.5" height="3.2" fill="#f41414" shape-rendering="crispEdges"/>
<rect x="91.1" y="491.2" width="35.5" height="2.6" fill="#0a0ad6" shape-rendering="crispEdges"/>
<rect x="91.1" y="493.8" width="35.5" height="3.9" fill="#5a5ae6" shape-rendering="crispEdges"/>
<rect x="91.1" y="497.7" width="35.5" height="3.2" fill="#0a0ad6" shape-rendering="crispEdges"/>
<rect x="91.1" y="500.9" width="35.5" height="3.3" fill="#5a5ae6" shape-rendering="crispEdges"/>
<rect x="91.1" y="504.2" width="35.5" height="2.1" fill="#aeaef0" shape-rendering="crispEdges"/>
<rect x="91.1" y="506.3" width="35.5" height="2.2" fill="#f4f4fb" shape-rendering="crispEdges"/>
<rect x="91.1" y="508.5" width="35.5" height="3.2" fill="#5a5ae6" shape-rendering="crispEdges"/>
<rect x="91.1" y="511.7" width="35.5" height="4.3" fill="#0a0ad6" shape-rendering="crispEdges"/>
<rect x="91.1" y="516" width="35.5" height="2.2" fill="#aeaef0" shape-rendering="crispEdges"/>
<rect x="91.1" y="518.2" width="35.5" height="2.1" fill="#5a5ae6" shape-rendering="crispEdges"/>
<rect x="91.1" y="520.3" width="35.5" height="5.4" fill="#0a0ad6" shape-rendering="crispEdges"/>
<rect x="91.1" y="525.7" width="35.5" height="3.2" fill="#5a5ae6" shape-rendering="crispEdges"/>
<rect x="91.1" y="528.9" width="35.5" height="7.3" fill="#0a0ad6" shape-rendering="crispEdges"/>
<rect x="91.1" y="536.2" width="35.5" height="3.3" fill="#5a5ae6" shape-rendering="crispEdges"/>
<rect x="91.1" y="539.5" width="35.5" height="3.2" fill="#aeaef0" shape-rendering="crispEdges"/>
<rect x="91.1" y="542.7" width="35.5" height="3.2" fill="#5a5ae6" shape-rendering="crispEdges"/>
<rect x="91.1" y="545.9" width="35.5" height="3.3" fill="#aeaef0" shape-rendering="crispEdges"/>
<rect x="91.1" y="549.2" width="35.5" height="3.2" fill="#5a5ae6" shape-rendering="crispEdges"/>
<rect x="91.1" y="552.4" width="35.5" height="2.6" fill="#f4f4fb" shape-rendering="crispEdges"/>
<rect x="91.1" y="555" width="35.5" height="2.5" fill="#d8d8f6" shape-rendering="crispEdges"/>
<rect x="91.1" y="557.5" width="35.5" height="3.0" fill="#aeaef0" shape-rendering="crispEdges"/>
<rect x="91.1" y="560.5" width="35.5" height="1.5" fill="#d8d8f6" shape-rendering="crispEdges"/>
<rect x="91.1" y="562" width="35.5" height="5.3" fill="#f6b4b4" shape-rendering="crispEdges"/>
<rect x="91.1" y="567.3" width="35.5" height="2.3" fill="#f41414" shape-rendering="crispEdges"/>
<rect x="91.1" y="569.6" width="35.5" height="2.2" fill="#f6b4b4" shape-rendering="crispEdges"/>
<rect x="91.1" y="571.8" width="35.5" height="3.2" fill="#aeaef0" shape-rendering="crispEdges"/>
<rect x="91.1" y="575" width="35.5" height="3.2" fill="#f4f4fb" shape-rendering="crispEdges"/>
<rect x="91.1" y="578.2" width="35.5" height="3.3" fill="#aeaef0" shape-rendering="crispEdges"/>
<rect x="91.1" y="581.5" width="35.5" height="3.2" fill="#f6b4b4" shape-rendering="crispEdges"/>
<rect x="91.1" y="584.7" width="35.5" height="3.2" fill="#f06464" shape-rendering="crispEdges"/>
<rect x="91.1" y="587.9" width="35.5" height="4.3" fill="#f6b4b4" shape-rendering="crispEdges"/>
<rect x="91.1" y="592.2" width="35.5" height="3.6" fill="#f8d8d8" shape-rendering="crispEdges"/>
<rect x="19.5" y="357.5" width="107.1" height="238.29999999999995" fill="none" stroke="#222" stroke-width="0.8" />
<rect x="11.9" y="358" width="2.2" height="34.5" fill="#c41a2a" />
<text transform="translate(9.2,375) rotate(-90)" font-size="6.6" text-anchor="middle" fill="#1a1a1a">35 lncRNAs</text>
<rect x="12" y="529.7" width="2.2" height="37.7" fill="#14149a" />
<rect x="12" y="576.9" width="2.2" height="9.4" fill="#14149a" />
<text transform="translate(9.2,557) rotate(-90)" font-size="6.6" text-anchor="middle" fill="#1a1a1a">50 lncRNAs</text>
<text transform="translate(72.8,611.8)" font-size="7.5" font-weight="400" text-anchor="middle" fill="#1a1a1a" stroke="#1a1a1a" stroke-width="0.15" >RNA-Seq Cuffdiff</text>
<text transform="translate(75,623.1)" font-size="6.4" font-weight="400" text-anchor="middle" fill="#1a1a1a" stroke="#1a1a1a" stroke-width="0.128" >log2(fold change)</text>
<rect x="39.3" y="626.3" width="9.72" height="8.2" fill="#0000e0" />
<rect x="48.97" y="626.3" width="9.72" height="8.2" fill="#6060e8" />
<rect x="58.64" y="626.3" width="9.72" height="8.2" fill="#b0b0f0" />
<rect x="68.31" y="626.3" width="9.72" height="8.2" fill="#ffffff" />
<rect x="77.99" y="626.3" width="9.72" height="8.2" fill="#f4b0b0" />
<rect x="87.66" y="626.3" width="9.72" height="8.2" fill="#ec6060" />
<rect x="97.33" y="626.3" width="9.72" height="8.2" fill="#e60000" />
<rect x="39.3" y="626.3" width="67.7" height="8.2" fill="none" stroke="#333" stroke-width="0.6" />
<text transform="translate(41.4,641.5)" font-size="5.5" font-weight="400" text-anchor="middle" fill="#1a1a1a" stroke="#1a1a1a" stroke-width="0.11" >-2</text>
<text transform="translate(73,641.5)" font-size="5.5" font-weight="400" text-anchor="middle" fill="#1a1a1a" stroke="#1a1a1a" stroke-width="0.11" >0</text>
<text transform="translate(102,641.5)" font-size="5.5" font-weight="400" text-anchor="middle" fill="#1a1a1a" stroke="#1a1a1a" stroke-width="0.11" >2</text>
<text transform="translate(221.9,8.3)" font-size="10.5" font-weight="700" text-anchor="start" fill="#1a1a1a" stroke="#1a1a1a" stroke-width="0.25">B</text>
<text transform="translate(238,8.3)" font-size="9.5" font-weight="400" text-anchor="start" fill="#1a1a1a" stroke="#1a1a1a" stroke-width="0.15" >Dysregulated pathways in SS</text>
<text transform="translate(246.5,34.5)" font-size="7.5" font-weight="700" text-anchor="start" fill="#1a1a1a" >Canonical Pathway</text>
<text transform="translate(408.6,34.5)" font-size="7.5" font-weight="700" text-anchor="start" fill="#1a1a1a" >-log(p-value)</text>
<line x1="242.3" y1="38" x2="467" y2="38" stroke="#333" stroke-width="1.1" />
<text transform="translate(246.8,47.6)" font-size="7.6" font-weight="400" text-anchor="start" fill="#1a1a1a" stroke="#1a1a1a" stroke-width="0.15" >Molecular Mechanisms of Cancer</text>
<text transform="translate(442.5,47.6)" font-size="7.6" font-weight="400" text-anchor="end" fill="#1a1a1a" stroke="#1a1a1a" stroke-width="0.15" >11.6</text>
<text transform="translate(246.8,59.6)" font-size="7.6" font-weight="400" text-anchor="start" fill="#1a1a1a" stroke="#1a1a1a" stroke-width="0.15" >PI3K/AKT Signaling</text>
<text transform="translate(442.5,59.6)" font-size="7.6" font-weight="400" text-anchor="end" fill="#1a1a1a" stroke="#1a1a1a" stroke-width="0.15" >11.6</text>
<text transform="translate(246.8,71.6)" font-size="7.6" font-weight="400" text-anchor="start" fill="#1a1a1a" stroke="#1a1a1a" stroke-width="0.15" >T Cell Receptor Signaling</text>
<text transform="translate(442.5,71.6)" font-size="7.6" font-weight="400" text-anchor="end" fill="#1a1a1a" stroke="#1a1a1a" stroke-width="0.15" >10.2</text>
<text transform="translate(246.8,83.6)" font-size="7.6" font-weight="400" text-anchor="start" fill="#1a1a1a" stroke="#1a1a1a" stroke-width="0.15" >NRF2-mediated Oxidative Stress Response</text>
<text transform="translate(442.5,83.6)" font-size="7.6" font-weight="400" text-anchor="end" fill="#1a1a1a" stroke="#1a1a1a" stroke-width="0.15" >10.1</text>
<text transform="translate(246.8,95.6)" font-size="7.6" font-weight="400" text-anchor="start" fill="#1a1a1a" stroke="#1a1a1a" stroke-width="0.15" >Glucocorticoid Receptor Signaling</text>
<text transform="translate(442.5,95.6)" font-size="7.6" font-weight="400" text-anchor="end" fill="#1a1a1a" stroke="#1a1a1a" stroke-width="0.15" >9.6</text>
<text transform="translate(246.8,107.6)" font-size="7.6" font-weight="400" text-anchor="start" fill="#1a1a1a" stroke="#1a1a1a" stroke-width="0.15" >Mitochondrial Dysfunction</text>
<text transform="translate(442.5,107.6)" font-size="7.6" font-weight="400" text-anchor="end" fill="#1a1a1a" stroke="#1a1a1a" stroke-width="0.15" >9.1</text>
<text transform="translate(246.8,119.6)" font-size="7.6" font-weight="400" text-anchor="start" fill="#1a1a1a" stroke="#1a1a1a" stroke-width="0.15" >Regulation of IL-2 in T Cells</text>
<text transform="translate(442.5,119.6)" font-size="7.6" font-weight="400" text-anchor="end" fill="#1a1a1a" stroke="#1a1a1a" stroke-width="0.15" >8.9</text>
<text transform="translate(246.8,131.6)" font-size="7.6" font-weight="400" text-anchor="start" fill="#1a1a1a" stroke="#1a1a1a" stroke-width="0.15" >CD28 Signaling in T Helper Cells</text>
<text transform="translate(442.5,131.6)" font-size="7.6" font-weight="400" text-anchor="end" fill="#1a1a1a" stroke="#1a1a1a" stroke-width="0.15" >8.3</text>
<text transform="translate(246.8,143.6)" font-size="7.6" font-weight="400" text-anchor="start" fill="#1a1a1a" stroke="#1a1a1a" stroke-width="0.15" >TGF&#946; Signaling</text>
<text transform="translate(442.5,143.6)" font-size="7.6" font-weight="400" text-anchor="end" fill="#1a1a1a" stroke="#1a1a1a" stroke-width="0.15" >6.5</text>
<line x1="242.3" y1="150.8" x2="467" y2="150.8" stroke="#333" stroke-width="1.1" />
<text transform="translate(221.8,186)" font-size="10.5" font-weight="700" text-anchor="start" fill="#1a1a1a" stroke="#1a1a1a" stroke-width="0.25">C</text>
<text transform="translate(238.1,186)" font-size="9.5" font-weight="400" text-anchor="start" fill="#1a1a1a" stroke="#1a1a1a" stroke-width="0.15" >GSEA: top signaling pathways enriched in SS gene signature</text>
<text transform="translate(222.6,231.9) rotate(-90)" font-size="6.3" text-anchor="middle" textLength="43.5" lengthAdjust="spacingAndGlyphs" fill="#1a1a1a" stroke="#1a1a1a" stroke-width="0.15">Enrichment score</text>
<text transform="translate(275,203)" font-size="6.1" font-weight="400" text-anchor="middle" fill="#1a1a1a" stroke="#1a1a1a" stroke-width="0.122" >Molecular mechanisms of cancer</text>
<rect x="239" y="209.6" width="74.5" height="47.900000000000006" fill="#fff" stroke="#333" stroke-width="0.9" />
<defs><linearGradient id="g239" x1="0" x2="1" y1="0" y2="0"><stop offset="0" stop-color="#d84a4a"/><stop offset="0.28" stop-color="#e89898"/><stop offset="0.42" stop-color="#f6e6ec"/><stop offset="0.55" stop-color="#e6e6f6"/><stop offset="0.7" stop-color="#b4b4e6"/><stop offset="0.9" stop-color="#7474d0"/><stop offset="0.96" stop-color="#4a4ac0"/><stop offset="1" stop-color="#101070"/></linearGradient></defs>
<rect x="239.5" y="254.3" width="70.9" height="2.9" fill="url(#g239)" />
<line x1="243.6" y1="242.0" x2="243.6" y2="254.3" stroke="#5a5a5a" stroke-width="0.45" />
<line x1="245.2" y1="242.0" x2="245.2" y2="254.3" stroke="#5a5a5a" stroke-width="0.45" />
<line x1="247.7" y1="242.0" x2="247.7" y2="254.3" stroke="#5a5a5a" stroke-width="0.45" />
<line x1="254.3" y1="242.0" x2="254.3" y2="254.3" stroke="#5a5a5a" stroke-width="0.45" />
<line x1="257.6" y1="242.0" x2="257.6" y2="254.3" stroke="#5a5a5a" stroke-width="0.45" />
<line x1="263.4" y1="242.0" x2="263.4" y2="254.3" stroke="#5a5a5a" stroke-width="0.45" />
<line x1="266.7" y1="242.0" x2="266.7" y2="254.3" stroke="#5a5a5a" stroke-width="0.45" />
<line x1="272.5" y1="242.0" x2="272.5" y2="254.3" stroke="#5a5a5a" stroke-width="0.45" />
<line x1="275.3" y1="242.0" x2="275.3" y2="254.3" stroke="#5a5a5a" stroke-width="0.45" />
<line x1="285.2" y1="242.0" x2="285.2" y2="254.3" stroke="#5a5a5a" stroke-width="0.45" />
<line x1="301.5" y1="242.0" x2="301.5" y2="254.3" stroke="#5a5a5a" stroke-width="0.45" />
<line x1="239" y1="240.2" x2="313.5" y2="240.2" stroke="#333" stroke-width="0.8" />
<path d="M239.6,240.2 L239.9,229.8 L243.2,232.0 L244.4,220.7 L246.6,222.4 L248.2,214.1 L250.5,216.2 L251.8,214.1 L253.5,215.3 L254.8,212.4 L256.8,212.9 L258.8,211.3 L270.0,217.0 L284.9,228.2 L285.7,227.3 L293.2,232.3 L294.5,231.0 L300.6,236.4 L301.5,233.1 L310.6,240.1" stroke="#1a1a1a" stroke-width="1.05" fill="none" stroke-linejoin="round"/>
<text transform="translate(236,219.0)" font-size="5.8" font-weight="400" text-anchor="end" fill="#1a1a1a" stroke="#1a1a1a" stroke-width="0.11599999999999999" >0.4</text>
<line x1="237.8" y1="216.9" x2="239" y2="216.9" stroke="#333" stroke-width="0.6" />
<text transform="translate(236,230.6)" font-size="5.8" font-weight="400" text-anchor="end" fill="#1a1a1a" stroke="#1a1a1a" stroke-width="0.11599999999999999" >0.2</text>
<line x1="237.8" y1="228.5" x2="239" y2="228.5" stroke="#333" stroke-width="0.6" />
<text transform="translate(236,242.29999999999998)" font-size="5.8" font-weight="400" text-anchor="end" fill="#1a1a1a" stroke="#1a1a1a" stroke-width="0.11599999999999999" >0</text>
<line x1="237.8" y1="240.2" x2="239" y2="240.2" stroke="#333" stroke-width="0.6" />
<text transform="translate(277.5,214.6)" font-size="5.1" font-weight="400" text-anchor="start" fill="#1a1a1a" stroke="#1a1a1a" stroke-width="0.102" >NES 1.34</text>
<text transform="translate(277.5,220.6)" font-size="5.1" font-weight="400" text-anchor="start" fill="#1a1a1a" stroke="#1a1a1a" stroke-width="0.102" >FDR <tspan font-style="italic">q</tspan>-val 0.18</text>
<text transform="translate(239.3,264.8)" font-size="6" font-weight="400" text-anchor="start" fill="#1a1a1a" stroke="#1a1a1a" stroke-width="0.12" >SC</text>
<text transform="translate(314.1,264.8)" font-size="6" font-weight="400" text-anchor="end" fill="#1a1a1a" stroke="#1a1a1a" stroke-width="0.12" >CTRL</text>
<text transform="translate(370,203)" font-size="6.1" font-weight="400" text-anchor="middle" fill="#1a1a1a" stroke="#1a1a1a" stroke-width="0.122" >Phosphatidylinositol signaling</text>
<rect x="332.9" y="208.8" width="74.5" height="48.69999999999999" fill="#fff" stroke="#333" stroke-width="0.9" />
<defs><linearGradient id="g332" x1="0" x2="1" y1="0" y2="0"><stop offset="0" stop-color="#d84a4a"/><stop offset="0.28" stop-color="#e89898"/><stop offset="0.42" stop-color="#f6e6ec"/><stop offset="0.55" stop-color="#e6e6f6"/><stop offset="0.7" stop-color="#b4b4e6"/><stop offset="0.9" stop-color="#7474d0"/><stop offset="0.96" stop-color="#4a4ac0"/><stop offset="1" stop-color="#101070"/></linearGradient></defs>
<rect x="333.4" y="254.3" width="70.9" height="2.9" fill="url(#g332)" />
<line x1="336.3" y1="244.0" x2="336.3" y2="254.3" stroke="#5a5a5a" stroke-width="0.45" />
<line x1="337.6" y1="244.0" x2="337.6" y2="254.3" stroke="#5a5a5a" stroke-width="0.45" />
<line x1="339.2" y1="244.0" x2="339.2" y2="254.3" stroke="#5a5a5a" stroke-width="0.45" />
<line x1="342.5" y1="244.0" x2="342.5" y2="254.3" stroke="#5a5a5a" stroke-width="0.45" />
<line x1="355.4" y1="244.0" x2="355.4" y2="254.3" stroke="#5a5a5a" stroke-width="0.45" />
<line x1="356.6" y1="244.0" x2="356.6" y2="254.3" stroke="#5a5a5a" stroke-width="0.45" />
<line x1="369.3" y1="244.0" x2="369.3" y2="254.3" stroke="#5a5a5a" stroke-width="0.45" />
<line x1="384.7" y1="244.0" x2="384.7" y2="254.3" stroke="#5a5a5a" stroke-width="0.45" />
<line x1="386.4" y1="244.0" x2="386.4" y2="254.3" stroke="#5a5a5a" stroke-width="0.45" />
<line x1="388.5" y1="244.0" x2="388.5" y2="254.3" stroke="#5a5a5a" stroke-width="0.45" />
<line x1="391.3" y1="244.0" x2="391.3" y2="254.3" stroke="#5a5a5a" stroke-width="0.45" />
<line x1="393.8" y1="244.0" x2="393.8" y2="254.3" stroke="#5a5a5a" stroke-width="0.45" />
<line x1="397.1" y1="244.0" x2="397.1" y2="254.3" stroke="#5a5a5a" stroke-width="0.45" />
<line x1="332.9" y1="242.2" x2="407.4" y2="242.2" stroke="#333" stroke-width="0.8" />
<path d="M333.2,242.2 L333.4,218.2 L334.3,219.6 L334.6,216.6 L335.6,216.2 L335.9,213.3 L336.7,212.4 L337.2,211.3 L338.4,211.9 L339.2,210.3 L340.6,211.6 L341.2,210.8 L342.2,211.9 L343.0,210.8 L343.9,211.9 L352.5,219.1 L359.1,221.5 L380.6,237.2 L385.5,239.7 L387.5,240.6 L388.0,235.1 L389.7,236.4 L390.8,235.1 L391.8,236.4 L393.0,235.6 L394.1,236.8 L395.5,236.1 L402.9,241.7" stroke="#1a1a1a" stroke-width="1.05" fill="none" stroke-linejoin="round"/>
<text transform="translate(329.6,222.29999999999998)" font-size="5.8" font-weight="400" text-anchor="end" fill="#1a1a1a" stroke="#1a1a1a" stroke-width="0.11599999999999999" >0.4</text>
<line x1="331.7" y1="220.2" x2="332.9" y2="220.2" stroke="#333" stroke-width="0.6" />
<text transform="translate(329.6,233.6)" font-size="5.8" font-weight="400" text-anchor="end" fill="#1a1a1a" stroke="#1a1a1a" stroke-width="0.11599999999999999" >0.2</text>
<line x1="331.7" y1="231.5" x2="332.9" y2="231.5" stroke="#333" stroke-width="0.6" />
<text transform="translate(329.6,244.29999999999998)" font-size="5.8" font-weight="400" text-anchor="end" fill="#1a1a1a" stroke="#1a1a1a" stroke-width="0.11599999999999999" >0</text>
<line x1="331.7" y1="242.2" x2="332.9" y2="242.2" stroke="#333" stroke-width="0.6" />
<text transform="translate(370.6,214.6)" font-size="5.1" font-weight="400" text-anchor="start" fill="#1a1a1a" stroke="#1a1a1a" stroke-width="0.102" >NES 1.97</text>
<text transform="translate(370.6,220.6)" font-size="5.1" font-weight="400" text-anchor="start" fill="#1a1a1a" stroke="#1a1a1a" stroke-width="0.102" >FDR <tspan font-style="italic">q</tspan>-val 0.01</text>
<text transform="translate(333.2,264.8)" font-size="6" font-weight="400" text-anchor="start" fill="#1a1a1a" stroke="#1a1a1a" stroke-width="0.12" >SC</text>
<text transform="translate(408.0,264.8)" font-size="6" font-weight="400" text-anchor="end" fill="#1a1a1a" stroke="#1a1a1a" stroke-width="0.12" >CTRL</text>
<text transform="translate(464,203)" font-size="6.1" font-weight="400" text-anchor="middle" fill="#1a1a1a" stroke="#1a1a1a" stroke-width="0.122" >TGF&#946; signaling</text>
<rect x="424.4" y="209.1" width="74.5" height="48.400000000000006" fill="#fff" stroke="#333" stroke-width="0.9" />
<defs><linearGradient id="g424" x1="0" x2="1" y1="0" y2="0"><stop offset="0" stop-color="#d84848"/><stop offset="0.3" stop-color="#eca8b0"/><stop offset="0.42" stop-color="#f0e0ee"/><stop offset="0.6" stop-color="#c8c8ee"/><stop offset="0.8" stop-color="#6060d0"/><stop offset="0.97" stop-color="#3030b0"/><stop offset="1" stop-color="#101070"/></linearGradient></defs>
<rect x="424.9" y="254.3" width="70.9" height="2.9" fill="url(#g424)" />
<line x1="426.1" y1="242.0" x2="426.1" y2="254.3" stroke="#5a5a5a" stroke-width="0.45" />
<line x1="427.3" y1="242.0" x2="427.3" y2="254.3" stroke="#5a5a5a" stroke-width="0.45" />
<line x1="428.2" y1="242.0" x2="428.2" y2="254.3" stroke="#5a5a5a" stroke-width="0.45" />
<line x1="429.9" y1="242.0" x2="429.9" y2="254.3" stroke="#5a5a5a" stroke-width="0.45" />
<line x1="438.5" y1="242.0" x2="438.5" y2="254.3" stroke="#5a5a5a" stroke-width="0.45" />
<line x1="441.8" y1="242.0" x2="441.8" y2="254.3" stroke="#5a5a5a" stroke-width="0.45" />
<line x1="443.5" y1="242.0" x2="443.5" y2="254.3" stroke="#5a5a5a" stroke-width="0.45" />
<line x1="447.6" y1="242.0" x2="447.6" y2="254.3" stroke="#5a5a5a" stroke-width="0.45" />
<line x1="454.7" y1="242.0" x2="454.7" y2="254.3" stroke="#5a5a5a" stroke-width="0.45" />
<line x1="461.6" y1="242.0" x2="461.6" y2="254.3" stroke="#5a5a5a" stroke-width="0.45" />
<line x1="473.6" y1="242.0" x2="473.6" y2="254.3" stroke="#5a5a5a" stroke-width="0.45" />
<line x1="474.9" y1="242.0" x2="474.9" y2="254.3" stroke="#5a5a5a" stroke-width="0.45" />
<line x1="484.8" y1="242.0" x2="484.8" y2="254.3" stroke="#5a5a5a" stroke-width="0.45" />
<line x1="486.5" y1="242.0" x2="486.5" y2="254.3" stroke="#5a5a5a" stroke-width="0.45" />
<rect x="424.9" y="240.39999999999998" width="73.5" height="3.0" fill="#a8a8a8" />
<line x1="424.4" y1="240.2" x2="498.9" y2="240.2" stroke="#333" stroke-width="0.8" />
<path d="M425.4,240.2 L425.6,221.5 L426.5,221.5 L427.3,216.6 L428.1,216.4 L428.9,211.9 L429.9,211.3 L438.5,216.9 L439.3,215.7 L441.8,217.8 L442.6,216.9 L444.2,218.4 L446.8,219.9 L460.0,229.0 L473.2,238.9 L475.7,233.9 L477.8,236.0 L479.4,234.7 L484.0,238.9 L486.5,233.1 L495.6,240.1" stroke="#1a1a1a" stroke-width="1.05" fill="none" stroke-linejoin="round"/>
<text transform="translate(421.4,219.5)" font-size="5.8" font-weight="400" text-anchor="end" fill="#1a1a1a" stroke="#1a1a1a" stroke-width="0.11599999999999999" >0.4</text>
<line x1="423.2" y1="217.4" x2="424.4" y2="217.4" stroke="#333" stroke-width="0.6" />
<text transform="translate(421.4,231.4)" font-size="5.8" font-weight="400" text-anchor="end" fill="#1a1a1a" stroke="#1a1a1a" stroke-width="0.11599999999999999" >0.2</text>
<line x1="423.2" y1="229.3" x2="424.4" y2="229.3" stroke="#333" stroke-width="0.6" />
<text transform="translate(421.4,242.29999999999998)" font-size="5.8" font-weight="400" text-anchor="end" fill="#1a1a1a" stroke="#1a1a1a" stroke-width="0.11599999999999999" >0</text>
<line x1="423.2" y1="240.2" x2="424.4" y2="240.2" stroke="#333" stroke-width="0.6" />
<text transform="translate(459.7,214.6)" font-size="5.1" font-weight="400" text-anchor="start" fill="#1a1a1a" stroke="#1a1a1a" stroke-width="0.102" >NES 1.61</text>
<text transform="translate(459.7,220.6)" font-size="5.1" font-weight="400" text-anchor="start" fill="#1a1a1a" stroke="#1a1a1a" stroke-width="0.102" >FDR <tspan font-style="italic">q</tspan>-val 0.29</text>
<text transform="translate(424.7,264.8)" font-size="6" font-weight="400" text-anchor="start" fill="#1a1a1a" stroke="#1a1a1a" stroke-width="0.12" >SC</text>
<text transform="translate(499.5,264.8)" font-size="6" font-weight="400" text-anchor="end" fill="#1a1a1a" stroke="#1a1a1a" stroke-width="0.12" >CTRL</text>
<text transform="translate(165,298)" font-size="10.5" font-weight="700" text-anchor="start" fill="#1a1a1a" stroke="#1a1a1a" stroke-width="0.25">E</text>
<text transform="translate(180.4,298)" font-size="9.5" font-weight="400" text-anchor="start" fill="#1a1a1a" stroke="#1a1a1a" stroke-width="0.15" >Bioinformatic filters used to identify SC-associated lncRNAs</text>
<defs><marker id="ah" viewBox="0 0 10 10" refX="9.6" refY="5" markerWidth="7.5" markerHeight="7.5" markerUnits="userSpaceOnUse" orient="auto"><path d="M0,0.8 L10,5 L0,9.2 L2.6,5 z" fill="#111"/></marker></defs>
<rect x="157.5" y="344.8" width="48.30" height="18.70" rx="0" ry="0" fill="#fff" stroke="#1a1a1a" stroke-width="1.2"/>
<text transform="translate(181.65,350.55)" font-size="4.3" font-weight="400" text-anchor="middle" fill="#4a4a4a" stroke="#4a4a4a" stroke-width="0.05" >Annotated</text>
<text transform="translate(181.65,355.65)" font-size="4.3" font-weight="400" text-anchor="middle" fill="#4a4a4a" stroke="#4a4a4a" stroke-width="0.05" >RefSeq and Gencode</text>
<text transform="translate(181.65,360.75)" font-size="4.3" font-weight="400" text-anchor="middle" fill="#4a4a4a" stroke="#4a4a4a" stroke-width="0.05" >noncoding transcripts</text>
<path d="M205.8,353.8 L212.8,353.8 M212.8,333.5 L212.8,374" stroke="#1a1a1a" stroke-width="1.25" fill="none"/>
<path d="M212.8,333.5 L228.6,333.5" stroke="#1a1a1a" stroke-width="1.25" fill="none" marker-end="url(#ah)"/>
<path d="M212.8,374 L228.6,374" stroke="#1a1a1a" stroke-width="1.25" fill="none" marker-end="url(#ah)"/>
<rect x="228.9" y="325.5" width="48.60" height="16.70" rx="7" ry="7" fill="#fff" stroke="#1a1a1a" stroke-width="1.2"/>
<text transform="translate(253.2,330.25)" font-size="4.3" font-weight="400" text-anchor="middle" fill="#4a4a4a" stroke="#4a4a4a" stroke-width="0.05" >Expression change</text>
<text transform="translate(253.2,335.36)" font-size="4.3" font-weight="400" text-anchor="middle" fill="#4a4a4a" stroke="#4a4a4a" stroke-width="0.05" >not significant</text>
<text transform="translate(253.2,340.46)" font-size="4.3" font-weight="400" text-anchor="middle" fill="#4a4a4a" stroke="#4a4a4a" stroke-width="0.05" >and &lt;2-fold</text>
<rect x="228.9" y="366.5" width="48.60" height="16.30" rx="7" ry="7" fill="#fff" stroke="#1a1a1a" stroke-width="1.2"/>
<text transform="translate(253.2,371.05)" font-size="4.3" font-weight="400" text-anchor="middle" fill="#4a4a4a" stroke="#4a4a4a" stroke-width="0.05" >Significant or &#8805;2-fold</text>
<text transform="translate(253.2,376.15)" font-size="4.3" font-weight="400" text-anchor="middle" fill="#4a4a4a" stroke="#4a4a4a" stroke-width="0.05" >expression change</text>
<text transform="translate(253.2,381.25)" font-size="4.3" font-weight="400" text-anchor="middle" fill="#4a4a4a" stroke="#4a4a4a" stroke-width="0.05" >in all patients</text>
<path d="M277.5,374.5 L284.8,374.5 M284.8,353.8 L284.8,395.2" stroke="#1a1a1a" stroke-width="1.25" fill="none"/>
<path d="M284.8,353.8 L299.8,353.8" stroke="#1a1a1a" stroke-width="1.25" fill="none" marker-end="url(#ah)"/>
<path d="M284.8,395.2 L299.8,395.2" stroke="#1a1a1a" stroke-width="1.25" fill="none" marker-end="url(#ah)"/>
<rect x="300" y="348.6" width="33.80" height="10.80" rx="5.399999999999977" ry="5.399999999999977" fill="#fff" stroke="#1a1a1a" stroke-width="1.2"/>
<text transform="translate(316.9,353.1)" font-size="4.0" font-weight="400" text-anchor="middle" fill="#4a4a4a" stroke="#4a4a4a" stroke-width="0.05" >&#8805;1.5 FPKM</text>
<text transform="translate(316.9,357.7)" font-size="4.0" font-weight="400" text-anchor="middle" fill="#4a4a4a" stroke="#4a4a4a" stroke-width="0.05" >in all patients</text>
<rect x="300" y="390.8" width="33.80" height="10.60" rx="5.299999999999983" ry="5.299999999999983" fill="#fff" stroke="#1a1a1a" stroke-width="1.2"/>
<text transform="translate(316.9,395.2)" font-size="4.0" font-weight="400" text-anchor="middle" fill="#4a4a4a" stroke="#4a4a4a" stroke-width="0.05" >&lt;1.5 FPKM</text>
<text transform="translate(316.9,399.8)" font-size="4.0" font-weight="400" text-anchor="middle" fill="#4a4a4a" stroke="#4a4a4a" stroke-width="0.05" >in &#8805;1 patient</text>
<path d="M333.8,353.6 L471.8,353.6" stroke="#1a1a1a" stroke-width="1.25" fill="none" marker-end="url(#ah)"/>
<rect x="316.3" y="322.3" width="49.20" height="13.00" rx="0" ry="0" fill="#fff" stroke="#1a1a1a" stroke-width="1.2"/>
<text transform="translate(340.9,327.75)" font-size="4.3" font-weight="400" text-anchor="middle" fill="#4a4a4a" stroke="#4a4a4a" stroke-width="0.05" >Changes discordantly</text>
<text transform="translate(340.9,332.86)" font-size="4.3" font-weight="400" text-anchor="middle" fill="#4a4a4a" stroke="#4a4a4a" stroke-width="0.05" >among patients</text>
<rect x="371.1" y="322.4" width="21.50" height="12.90" rx="0" ry="0" fill="#fff" stroke="#1a1a1a" stroke-width="1.2"/>
<text transform="translate(381.85,327.81)" font-size="4.3" font-weight="400" text-anchor="middle" fill="#4a4a4a" stroke="#4a4a4a" stroke-width="0.05" >Length</text>
<text transform="translate(381.85,332.91)" font-size="4.3" font-weight="400" text-anchor="middle" fill="#4a4a4a" stroke="#4a4a4a" stroke-width="0.05" >&gt;200bp</text>
<rect x="398.6" y="322.4" width="30.10" height="12.90" rx="0" ry="0" fill="#fff" stroke="#1a1a1a" stroke-width="1.2"/>
<text transform="translate(413.65,330.36)" font-size="4.3" font-weight="400" text-anchor="middle" fill="#4a4a4a" stroke="#4a4a4a" stroke-width="0.05" >Pseudogene</text>
<rect x="436.5" y="319.4" width="47.70" height="16.10" rx="0" ry="0" fill="#fff" stroke="#1a1a1a" stroke-width="1.2"/>
<text transform="translate(460.35,323.85)" font-size="4.3" font-weight="400" text-anchor="middle" fill="#4a4a4a" stroke="#4a4a4a" stroke-width="0.05" >Annotated and</text>
<text transform="translate(460.35,328.95)" font-size="4.3" font-weight="400" text-anchor="middle" fill="#4a4a4a" stroke="#4a4a4a" stroke-width="0.05" >reconstructed</text>
<text transform="translate(460.35,334.06)" font-size="4.3" font-weight="400" text-anchor="middle" fill="#4a4a4a" stroke="#4a4a4a" stroke-width="0.05" >transcripts comparison</text>
<rect x="327" y="369.6" width="48.80" height="13.00" rx="0" ry="0" fill="#fff" stroke="#1a1a1a" stroke-width="1.2"/>
<text transform="translate(351.4,375.06)" font-size="4.3" font-weight="400" text-anchor="middle" fill="#4a4a4a" stroke="#4a4a4a" stroke-width="0.05" >Noncoding transcript</text>
<text transform="translate(351.4,380.16)" font-size="4.3" font-weight="400" text-anchor="middle" fill="#4a4a4a" stroke="#4a4a4a" stroke-width="0.05" >of coding gene</text>
<rect x="379.6" y="369.4" width="34.10" height="17.20" rx="0" ry="0" fill="#fff" stroke="#1a1a1a" stroke-width="1.2"/>
<text transform="translate(396.65,374.4)" font-size="4.3" font-weight="400" text-anchor="middle" fill="#4a4a4a" stroke="#4a4a4a" stroke-width="0.05" >&#8805;80% overlap</text>
<text transform="translate(396.65,379.5)" font-size="4.3" font-weight="400" text-anchor="middle" fill="#4a4a4a" stroke="#4a4a4a" stroke-width="0.05" >protein-coding</text>
<text transform="translate(396.65,384.61)" font-size="4.3" font-weight="400" text-anchor="middle" fill="#4a4a4a" stroke="#4a4a4a" stroke-width="0.05" >transcript</text>
<rect x="418.7" y="370.2" width="50.20" height="12.80" rx="0" ry="0" fill="#fff" stroke="#1a1a1a" stroke-width="1.2"/>
<text transform="translate(443.8,375.56)" font-size="4.3" font-weight="400" text-anchor="middle" fill="#4a4a4a" stroke="#4a4a4a" stroke-width="0.05" >&lt;2-fold expression</text>
<text transform="translate(443.8,380.66)" font-size="4.3" font-weight="400" text-anchor="middle" fill="#4a4a4a" stroke="#4a4a4a" stroke-width="0.05" >changes in all 3 patients</text>
<rect x="474.2" y="349.2" width="35.60" height="12.20" rx="6.099999999999994" ry="6.099999999999994" fill="#fff" stroke="#1a1a1a" stroke-width="1.2"/>
<text transform="translate(492.0,354.25)" font-size="4.3" font-weight="400" text-anchor="middle" fill="#4a4a4a" stroke="#4a4a4a" stroke-width="0.05" >SC-associated</text>
<text transform="translate(492.0,359.35)" font-size="4.3" font-weight="400" text-anchor="middle" fill="#4a4a4a" stroke="#4a4a4a" stroke-width="0.05" >lncRNAs</text>
<path d="M338.5,353.6 C344.5,353.6 347.9,349 349.4,338.6" stroke="#1a1a1a" stroke-width="1.25" fill="none" marker-end="url(#ah)"/>
<path d="M371.0,353.6 C377.0,353.6 379.8,349 381.3,339.0" stroke="#1a1a1a" stroke-width="1.25" fill="none" marker-end="url(#ah)"/>
<path d="M404.5,353.6 C410.5,353.6 411.5,349 413.0,338.8" stroke="#1a1a1a" stroke-width="1.25" fill="none" marker-end="url(#ah)"/>
<path d="M434.5,353.6 C440.5,353.6 444.5,349 446.0,337.6" stroke="#1a1a1a" stroke-width="1.25" fill="none" marker-end="url(#ah)"/>
<path d="M354.5,353.6 C360.5,353.6 364.1,357 364.6,368.6" stroke="#1a1a1a" stroke-width="1.25" fill="none" marker-end="url(#ah)"/>
<path d="M387.5,353.6 C393.5,353.6 396.7,357 397.2,368.4" stroke="#1a1a1a" stroke-width="1.25" fill="none" marker-end="url(#ah)"/>
<path d="M423.5,353.6 C429.5,353.6 432.0,357 432.5,369.2" stroke="#1a1a1a" stroke-width="1.25" fill="none" marker-end="url(#ah)"/>
<text transform="translate(165.6,433)" font-size="10.5" font-weight="700" text-anchor="start" fill="#1a1a1a" stroke="#1a1a1a" stroke-width="0.25">F</text>
<text transform="translate(180.8,433)" font-size="9.5" font-weight="400" text-anchor="start" fill="#1a1a1a" stroke="#1a1a1a" stroke-width="0.15" >Genomic locus of representative</text>
<text transform="translate(180.8,444.1)" font-size="9.5" font-weight="400" text-anchor="start" fill="#1a1a1a" stroke="#1a1a1a" stroke-width="0.15" >SC-associated lncRNA</text>
<text transform="translate(217.3,459)" font-size="5.3" font-weight="400" text-anchor="start" fill="#1a1a1a" stroke="#1a1a1a" stroke-width="0.106" >5 kb</text>
<line x1="229.8" y1="457.2" x2="275.2" y2="457.2" stroke="#1a1a1a" stroke-width="1.3" />
<line x1="230.2" y1="455" x2="230.2" y2="459" stroke="#222" stroke-width="0.9" />
<line x1="274.8" y1="455" x2="274.8" y2="459" stroke="#222" stroke-width="0.9" />
<text transform="translate(160.6,471.2)" font-size="6" font-weight="400" text-anchor="start" fill="#1a1a1a" stroke="#1a1a1a" stroke-width="0.12" >chr1</text>
<text transform="translate(202,471.2)" font-size="5.6" font-weight="400" text-anchor="start" fill="#1a1a1a" stroke="#1a1a1a" stroke-width="0.11199999999999999" >-237935000</text>
<text transform="translate(290.4,471.2)" font-size="5.6" font-weight="400" text-anchor="start" fill="#1a1a1a" stroke="#1a1a1a" stroke-width="0.11199999999999999" >-237945000</text>
<line x1="174.6" y1="476" x2="174.6" y2="640" stroke="#e6e0d0" stroke-width="0.6" />
<text transform="translate(168.5,484.3)" font-size="5.6" font-weight="400" text-anchor="end" fill="#1a1a1a" stroke="#1a1a1a" stroke-width="0.11199999999999999" >CHRM3</text>
<path d="M172.7,478.6 L169.6,478.6 L169.6,486.2 L172.7,486.2" stroke="#222" stroke-width="0.9" fill="none" />
<line x1="175" y1="480.3" x2="331.3" y2="480.3" stroke="#5c5c80" stroke-width="2.3" />
<line x1="175" y1="480.3" x2="331.3" y2="480.3" stroke="#b8b8cc" stroke-width="0.8" stroke-dasharray="0.7 1.3"/>
<line x1="175" y1="484.2" x2="189.4" y2="484.2" stroke="#e8a050" stroke-width="1.8" />
<line x1="192" y1="486.9" x2="326.5" y2="486.9" stroke="#e89a3a" stroke-width="2.5" />
<line x1="192" y1="486.8" x2="326.5" y2="486.8" stroke="#f6d0a0" stroke-width="0.6" stroke-dasharray="0.6 1.6"/>
<text transform="translate(328.8,489)" font-size="6" font-weight="400" text-anchor="start" fill="#1a1a1a" stroke="#1a1a1a" stroke-width="0.12" >AL513543.1</text>
<path d="M163.9,503.2 L159.6,503.2 L159.6,544.2 L163.9,544.2" stroke="#222" stroke-width="1.1" fill="none" />
<text transform="translate(143.8,524.4000000000001)" font-size="6.2" font-weight="400" text-anchor="start" fill="#1a1a1a" stroke="#1a1a1a" stroke-width="0.12400000000000001" >Pt 1</text>
<text transform="translate(172.6,504.8)" font-size="4.6" font-weight="400" text-anchor="end" fill="#2020a0" stroke="#2020a0" stroke-width="0.092" >100</text>
<text transform="translate(172.6,523.9)" font-size="4.6" font-weight="400" text-anchor="end" fill="#2020a0" stroke="#2020a0" stroke-width="0.092" >1</text>
<text transform="translate(172.6,527.9)" font-size="4.6" font-weight="400" text-anchor="end" fill="#c03030" stroke="#c03030" stroke-width="0.092" >100</text>
<text transform="translate(172.6,546.1999999999999)" font-size="4.6" font-weight="400" text-anchor="end" fill="#c03030" stroke="#c03030" stroke-width="0.092" >1</text>
<path d="M174.6,522.5 L174.60,522.50 L186.90,522.40 L188.00,522.00 L190.00,521.30 L191.50,521.50 L192.30,521.00 L193.20,517.50 L193.80,516.50 L194.50,517.00 L195.20,520.50 L195.80,522.00 L196.50,522.40 L199.00,522.20 L200.00,518.50 L201.00,515.50 L202.00,512.50 L202.60,509.50 L203.30,513.50 L204.00,511.50 L204.80,508.50 L205.70,506.50 L206.40,510.50 L207.00,516.50 L207.70,521.00 L208.50,522.20 L212.50,522.20 L213.30,519.50 L214.30,516.50 L215.00,519.00 L215.80,516.50 L216.90,513.50 L217.60,517.50 L218.50,521.50 L219.00,522.30 L221.50,522.20 L222.50,520.50 L223.50,519.50 L224.50,519.50 L225.50,521.00 L226.50,522.20 L228.00,522.20 L229.00,520.50 L230.50,519.50 L231.50,520.00 L233.00,522.00 L235.00,522.30 L237.50,522.20 L239.00,521.50 L241.00,521.30 L243.00,521.70 L244.50,522.30 L253.60,522.40 L254.40,521.60 L255.20,522.40 L261.30,522.40 L262.10,521.20 L262.90,522.40 L272.50,522.30 L274.00,520.70 L275.00,520.50 L276.30,522.30 L282.70,522.40 L282.80,518.20 L283.80,518.20 L283.90,522.40 L295.00,522.40 L295.80,521.90 L296.60,522.40 L308.40,522.40 L309.20,521.90 L310.00,522.40 L325.10,522.40 L325.20,518.00 L326.20,518.00 L326.30,522.40 L333.40,522.50 L333.4,522.5 Z" fill="#1a1ad0" stroke="none"/>
<line x1="174.6" y1="522.5" x2="333.4" y2="522.5" stroke="#2a2aa4" stroke-width="1.1" />
<path d="M174.6,544.8 L174.60,544.80 L188.50,544.70 L190.00,544.20 L191.50,544.70 L195.00,544.70 L196.00,544.10 L197.00,544.70 L202.50,544.70 L204.00,543.90 L205.50,544.70 L215.00,544.70 L216.00,544.10 L217.00,544.70 L225.00,544.70 L226.00,544.30 L227.00,544.70 L269.20,544.70 L269.80,544.20 L270.40,544.70 L283.50,544.70 L283.60,544.10 L284.00,544.10 L284.10,544.70 L314.40,544.70 L315.00,544.20 L315.60,544.70 L325.30,544.70 L325.40,544.10 L325.80,544.10 L325.90,544.70 L333.40,544.80 L333.4,544.8 Z" fill="#e01818" stroke="none"/>
<line x1="174.6" y1="544.8" x2="333.4" y2="544.8" stroke="#eaa8a8" stroke-width="0.9" />
<text transform="translate(259,507.5)" font-size="6" font-weight="400" text-anchor="middle" fill="#24249a" stroke="#24249a" stroke-width="0.12" >Normal lymphocytes</text>
<text transform="translate(258.3,530.3)" font-size="5.8" font-weight="400" text-anchor="middle" fill="#c04a4a" stroke="#c04a4a" stroke-width="0.11599999999999999" >S&#233;zary lymphocytes</text>
<path d="M163.9,547.4 L159.6,547.4 L159.6,588.4 L163.9,588.4" stroke="#222" stroke-width="1.1" fill="none" />
<text transform="translate(143.8,568.6)" font-size="6.2" font-weight="400" text-anchor="start" fill="#1a1a1a" stroke="#1a1a1a" stroke-width="0.12400000000000001" >Pt 2</text>
<text transform="translate(172.6,549.0)" font-size="4.6" font-weight="400" text-anchor="end" fill="#2020a0" stroke="#2020a0" stroke-width="0.092" >100</text>
<text transform="translate(172.6,568.0)" font-size="4.6" font-weight="400" text-anchor="end" fill="#2020a0" stroke="#2020a0" stroke-width="0.092" >1</text>
<text transform="translate(172.6,572.0)" font-size="4.6" font-weight="400" text-anchor="end" fill="#c03030" stroke="#c03030" stroke-width="0.092" >100</text>
<text transform="translate(172.6,590.1999999999999)" font-size="4.6" font-weight="400" text-anchor="end" fill="#c03030" stroke="#c03030" stroke-width="0.092" >1</text>
<path d="M174.6,566.6 L174.60,566.60 L187.70,566.50 L189.00,566.00 L191.00,565.80 L192.30,565.10 L193.30,561.60 L194.30,559.30 L195.20,561.60 L195.80,565.60 L196.50,566.30 L199.50,566.30 L200.00,563.60 L201.00,558.60 L202.30,552.80 L203.00,555.60 L204.00,554.60 L205.00,552.60 L205.70,550.60 L206.50,554.60 L207.20,558.60 L207.70,561.60 L208.50,564.60 L209.20,566.30 L212.80,566.30 L213.50,562.60 L214.50,560.60 L215.50,558.60 L216.20,556.60 L217.00,558.60 L218.00,560.60 L219.00,562.60 L220.00,564.60 L220.80,566.30 L222.30,566.30 L223.30,564.10 L224.60,562.60 L225.80,563.10 L227.00,566.30 L234.60,566.50 L235.40,566.20 L236.20,566.50 L282.70,566.50 L282.80,560.10 L283.80,560.10 L283.90,566.50 L325.10,566.50 L325.20,562.10 L326.20,562.10 L326.30,566.50 L333.40,566.60 L333.4,566.6 Z" fill="#1a1ad0" stroke="none"/>
<line x1="174.6" y1="566.6" x2="333.4" y2="566.6" stroke="#2a2aa4" stroke-width="1.1" />
<path d="M174.6,588.8 L174.60,588.80 L205.10,588.70 L205.70,588.00 L206.30,588.70 L224.10,588.70 L224.60,588.20 L225.10,588.70 L234.80,588.70 L235.40,588.20 L236.00,588.70 L333.40,588.80 L333.4,588.8 Z" fill="#e01818" stroke="none"/>
<line x1="174.6" y1="588.8" x2="333.4" y2="588.8" stroke="#eaa8a8" stroke-width="0.9" />
<text transform="translate(259,552.3)" font-size="6" font-weight="400" text-anchor="middle" fill="#24249a" stroke="#24249a" stroke-width="0.12" >Normal lymphocytes</text>
<text transform="translate(258.3,575)" font-size="5.8" font-weight="400" text-anchor="middle" fill="#c04a4a" stroke="#c04a4a" stroke-width="0.11599999999999999" >S&#233;zary lymphocytes</text>
<path d="M163.9,591.8 L159.6,591.8 L159.6,633 L163.9,633" stroke="#222" stroke-width="1.1" fill="none" />
<text transform="translate(143.8,613.1)" font-size="6.2" font-weight="400" text-anchor="start" fill="#1a1a1a" stroke="#1a1a1a" stroke-width="0.12400000000000001" >Pt 3</text>
<text transform="translate(172.6,593.4)" font-size="4.6" font-weight="400" text-anchor="end" fill="#2020a0" stroke="#2020a0" stroke-width="0.092" >100</text>
<text transform="translate(172.6,612.0)" font-size="4.6" font-weight="400" text-anchor="end" fill="#2020a0" stroke="#2020a0" stroke-width="0.092" >1</text>
<text transform="translate(172.6,616.0)" font-size="4.6" font-weight="400" text-anchor="end" fill="#c03030" stroke="#c03030" stroke-width="0.092" >100</text>
<text transform="translate(172.6,634.4)" font-size="4.6" font-weight="400" text-anchor="end" fill="#c03030" stroke="#c03030" stroke-width="0.092" >1</text>
<path d="M174.6,610.6 L174.60,610.60 L186.50,610.50 L187.50,609.60 L188.50,608.60 L190.00,608.10 L192.00,607.10 L193.80,604.30 L195.00,606.10 L196.90,606.60 L198.00,607.60 L199.50,606.60 L200.80,603.20 L202.00,605.60 L203.00,605.60 L204.00,606.60 L205.00,603.60 L206.20,595.60 L207.00,602.60 L208.50,605.10 L209.50,608.60 L210.00,610.30 L212.80,610.30 L213.50,607.60 L214.60,604.90 L215.50,605.60 L216.90,600.10 L218.00,604.60 L219.20,606.60 L220.50,605.60 L222.30,603.60 L223.50,606.10 L224.60,606.60 L225.50,608.60 L226.00,610.30 L234.75,610.50 L236.00,609.80 L237.25,610.50 L282.70,610.50 L282.80,603.80 L283.80,603.80 L283.90,610.50 L325.10,610.50 L325.20,604.60 L326.20,604.60 L326.30,610.50 L333.40,610.60 L333.4,610.6 Z" fill="#1a1ad0" stroke="none"/>
<line x1="174.6" y1="610.6" x2="333.4" y2="610.6" stroke="#2a2aa4" stroke-width="1.1" />
<path d="M174.6,633 L174.60,633.00 L192.50,632.90 L193.50,631.00 L194.30,630.00 L195.20,631.50 L196.00,632.70 L199.50,632.70 L200.50,630.50 L201.50,629.50 L203.00,629.50 L204.50,630.00 L205.50,628.00 L206.20,624.40 L207.00,628.00 L207.80,632.00 L208.50,632.80 L212.50,632.80 L213.20,629.00 L213.80,627.00 L214.80,628.00 L215.80,627.00 L216.90,626.00 L217.80,629.00 L218.50,632.00 L219.20,632.80 L222.50,632.80 L223.80,631.50 L225.00,632.80 L283.20,632.90 L283.30,631.50 L283.70,631.50 L283.80,632.90 L325.50,632.90 L325.60,631.50 L326.00,631.50 L326.10,632.90 L333.40,633.00 L333.4,633 Z" fill="#e01818" stroke="none"/>
<line x1="174.6" y1="633" x2="333.4" y2="633" stroke="#eaa8a8" stroke-width="0.9" />
<text transform="translate(259,596.5)" font-size="6" font-weight="400" text-anchor="middle" fill="#24249a" stroke="#24249a" stroke-width="0.12" >Normal lymphocytes</text>
<text transform="translate(258.3,619)" font-size="5.8" font-weight="400" text-anchor="middle" fill="#c04a4a" stroke="#c04a4a" stroke-width="0.11599999999999999" >S&#233;zary lymphocytes</text>
<text transform="translate(342.8,432)" font-size="10.5" font-weight="700" text-anchor="start" fill="#1a1a1a" stroke="#1a1a1a" stroke-width="0.25">G</text>
<text transform="translate(360,431.6)" font-size="9.5" font-weight="400" text-anchor="start" fill="#1a1a1a" stroke="#1a1a1a" stroke-width="0.15" >Relative expression of SC-associated</text>
<text transform="translate(360,443.3)" font-size="9.5" font-weight="400" text-anchor="start" fill="#1a1a1a" stroke="#1a1a1a" stroke-width="0.15" >lncRNAs in human tissues</text>
<rect x="378.80" y="482.00" width="6.51" height="6.39" fill="#f8d8d6"/>
<rect x="385.26" y="482.00" width="6.51" height="6.39" fill="#f4b0aa"/>
<rect x="391.72" y="482.00" width="6.51" height="6.39" fill="#f6f4f8"/>
<rect x="398.18" y="482.00" width="6.51" height="6.39" fill="#d4d4f8"/>
<rect x="404.64" y="482.00" width="6.51" height="6.39" fill="#d4d4f8"/>
<rect x="411.09" y="482.00" width="6.51" height="6.39" fill="#f8d8d6"/>
<rect x="417.55" y="482.00" width="6.51" height="6.39" fill="#d4d4f8"/>
<rect x="424.01" y="482.00" width="6.51" height="6.39" fill="#f4b0aa"/>
<rect x="430.47" y="482.00" width="6.51" height="6.39" fill="#f6f4f8"/>
<rect x="436.93" y="482.00" width="6.51" height="6.39" fill="#ee7a70"/>
<rect x="443.39" y="482.00" width="6.51" height="6.39" fill="#f8d8d6"/>
<rect x="449.85" y="482.00" width="6.51" height="6.39" fill="#f4b0aa"/>
<rect x="456.31" y="482.00" width="6.51" height="6.39" fill="#f8d8d6"/>
<rect x="462.76" y="482.00" width="6.51" height="6.39" fill="#f8d8d6"/>
<rect x="469.22" y="482.00" width="6.51" height="6.39" fill="#f8d8d6"/>
<rect x="475.68" y="482.00" width="6.51" height="6.39" fill="#f8d8d6"/>
<rect x="482.14" y="482.00" width="6.51" height="6.39" fill="#f4b0aa"/>
<rect x="378.80" y="488.34" width="6.51" height="6.39" fill="#f4b0aa"/>
<rect x="385.26" y="488.34" width="6.51" height="6.39" fill="#f8d8d6"/>
<rect x="391.72" y="488.34" width="6.51" height="6.39" fill="#f8d8d6"/>
<rect x="398.18" y="488.34" width="6.51" height="6.39" fill="#f8d8d6"/>
<rect x="404.64" y="488.34" width="6.51" height="6.39" fill="#f6f4f8"/>
<rect x="411.09" y="488.34" width="6.51" height="6.39" fill="#f8d8d6"/>
<rect x="417.55" y="488.34" width="6.51" height="6.39" fill="#e83030"/>
<rect x="424.01" y="488.34" width="6.51" height="6.39" fill="#f6f4f8"/>
<rect x="430.47" y="488.34" width="6.51" height="6.39" fill="#f6f4f8"/>
<rect x="436.93" y="488.34" width="6.51" height="6.39" fill="#f4b0aa"/>
<rect x="443.39" y="488.34" width="6.51" height="6.39" fill="#a8a8f4"/>
<rect x="449.85" y="488.34" width="6.51" height="6.39" fill="#f8d8d6"/>
<rect x="456.31" y="488.34" width="6.51" height="6.39" fill="#f6f4f8"/>
<rect x="462.76" y="488.34" width="6.51" height="6.39" fill="#f8d8d6"/>
<rect x="469.22" y="488.34" width="6.51" height="6.39" fill="#f8d8d6"/>
<rect x="475.68" y="488.34" width="6.51" height="6.39" fill="#f8d8d6"/>
<rect x="482.14" y="488.34" width="6.51" height="6.39" fill="#f8d8d6"/>
<rect x="378.80" y="494.68" width="6.51" height="6.39" fill="#f8d8d6"/>
<rect x="385.26" y="494.68" width="6.51" height="6.39" fill="#f6f4f8"/>
<rect x="391.72" y="494.68" width="6.51" height="6.39" fill="#f6f4f8"/>
<rect x="398.18" y="494.68" width="6.51" height="6.39" fill="#a8a8f4"/>
<rect x="404.64" y="494.68" width="6.51" height="6.39" fill="#d4d4f8"/>
<rect x="411.09" y="494.68" width="6.51" height="6.39" fill="#f6f4f8"/>
<rect x="417.55" y="494.68" width="6.51" height="6.39" fill="#f6f4f8"/>
<rect x="424.01" y="494.68" width="6.51" height="6.39" fill="#f6f4f8"/>
<rect x="430.47" y="494.68" width="6.51" height="6.39" fill="#d4d4f8"/>
<rect x="436.93" y="494.68" width="6.51" height="6.39" fill="#f6f4f8"/>
<rect x="443.39" y="494.68" width="6.51" height="6.39" fill="#d4d4f8"/>
<rect x="449.85" y="494.68" width="6.51" height="6.39" fill="#f8d8d6"/>
<rect x="456.31" y="494.68" width="6.51" height="6.39" fill="#d4d4f8"/>
<rect x="462.76" y="494.68" width="6.51" height="6.39" fill="#f6f4f8"/>
<rect x="469.22" y="494.68" width="6.51" height="6.39" fill="#f6f4f8"/>
<rect x="475.68" y="494.68" width="6.51" height="6.39" fill="#f6f4f8"/>
<rect x="482.14" y="494.68" width="6.51" height="6.39" fill="#f6f4f8"/>
<rect x="378.80" y="501.01" width="6.51" height="6.39" fill="#f8d8d6"/>
<rect x="385.26" y="501.01" width="6.51" height="6.39" fill="#d4d4f8"/>
<rect x="391.72" y="501.01" width="6.51" height="6.39" fill="#a8a8f4"/>
<rect x="398.18" y="501.01" width="6.51" height="6.39" fill="#d4d4f8"/>
<rect x="404.64" y="501.01" width="6.51" height="6.39" fill="#6262ee"/>
<rect x="411.09" y="501.01" width="6.51" height="6.39" fill="#ee7a70"/>
<rect x="417.55" y="501.01" width="6.51" height="6.39" fill="#f4b0aa"/>
<rect x="424.01" y="501.01" width="6.51" height="6.39" fill="#f4b0aa"/>
<rect x="430.47" y="501.01" width="6.51" height="6.39" fill="#f8d8d6"/>
<rect x="436.93" y="501.01" width="6.51" height="6.39" fill="#f8d8d6"/>
<rect x="443.39" y="501.01" width="6.51" height="6.39" fill="#d4d4f8"/>
<rect x="449.85" y="501.01" width="6.51" height="6.39" fill="#f8d8d6"/>
<rect x="456.31" y="501.01" width="6.51" height="6.39" fill="#d4d4f8"/>
<rect x="462.76" y="501.01" width="6.51" height="6.39" fill="#f8d8d6"/>
<rect x="469.22" y="501.01" width="6.51" height="6.39" fill="#f4b0aa"/>
<rect x="475.68" y="501.01" width="6.51" height="6.39" fill="#f8d8d6"/>
<rect x="482.14" y="501.01" width="6.51" height="6.39" fill="#d4d4f8"/>
<rect x="378.80" y="507.35" width="6.51" height="6.39" fill="#f8d8d6"/>
<rect x="385.26" y="507.35" width="6.51" height="6.39" fill="#f4b0aa"/>
<rect x="391.72" y="507.35" width="6.51" height="6.39" fill="#f8d8d6"/>
<rect x="398.18" y="507.35" width="6.51" height="6.39" fill="#cdcdc4"/>
<rect x="404.64" y="507.35" width="6.51" height="6.39" fill="#cdcdc4"/>
<rect x="411.09" y="507.35" width="6.51" height="6.39" fill="#0a0aea"/>
<rect x="417.55" y="507.35" width="6.51" height="6.39" fill="#a8a8f4"/>
<rect x="424.01" y="507.35" width="6.51" height="6.39" fill="#cdcdc4"/>
<rect x="430.47" y="507.35" width="6.51" height="6.39" fill="#d4d4f8"/>
<rect x="436.93" y="507.35" width="6.51" height="6.39" fill="#cdcdc4"/>
<rect x="443.39" y="507.35" width="6.51" height="6.39" fill="#0a0aea"/>
<rect x="449.85" y="507.35" width="6.51" height="6.39" fill="#cdcdc4"/>
<rect x="456.31" y="507.35" width="6.51" height="6.39" fill="#a8a8f4"/>
<rect x="462.76" y="507.35" width="6.51" height="6.39" fill="#cdcdc4"/>
<rect x="469.22" y="507.35" width="6.51" height="6.39" fill="#cdcdc4"/>
<rect x="475.68" y="507.35" width="6.51" height="6.39" fill="#cdcdc4"/>
<rect x="482.14" y="507.35" width="6.51" height="6.39" fill="#cdcdc4"/>
<rect x="378.80" y="513.69" width="6.51" height="6.39" fill="#0a0aea"/>
<rect x="385.26" y="513.69" width="6.51" height="6.39" fill="#cdcdc4"/>
<rect x="391.72" y="513.69" width="6.51" height="6.39" fill="#cdcdc4"/>
<rect x="398.18" y="513.69" width="6.51" height="6.39" fill="#0a0aea"/>
<rect x="404.64" y="513.69" width="6.51" height="6.39" fill="#cdcdc4"/>
<rect x="411.09" y="513.69" width="6.51" height="6.39" fill="#cdcdc4"/>
<rect x="417.55" y="513.69" width="6.51" height="6.39" fill="#0a0aea"/>
<rect x="424.01" y="513.69" width="6.51" height="6.39" fill="#0a0aea"/>
<rect x="430.47" y="513.69" width="6.51" height="6.39" fill="#0a0aea"/>
<rect x="436.93" y="513.69" width="6.51" height="6.39" fill="#6262ee"/>
<rect x="443.39" y="513.69" width="6.51" height="6.39" fill="#0a0aea"/>
<rect x="449.85" y="513.69" width="6.51" height="6.39" fill="#0a0aea"/>
<rect x="456.31" y="513.69" width="6.51" height="6.39" fill="#cdcdc4"/>
<rect x="462.76" y="513.69" width="6.51" height="6.39" fill="#cdcdc4"/>
<rect x="469.22" y="513.69" width="6.51" height="6.39" fill="#0a0aea"/>
<rect x="475.68" y="513.69" width="6.51" height="6.39" fill="#6262ee"/>
<rect x="482.14" y="513.69" width="6.51" height="6.39" fill="#d4d4f8"/>
<rect x="378.80" y="520.03" width="6.51" height="6.39" fill="#0a0aea"/>
<rect x="385.26" y="520.03" width="6.51" height="6.39" fill="#f6f4f8"/>
<rect x="391.72" y="520.03" width="6.51" height="6.39" fill="#cdcdc4"/>
<rect x="398.18" y="520.03" width="6.51" height="6.39" fill="#d4d4f8"/>
<rect x="404.64" y="520.03" width="6.51" height="6.39" fill="#d4d4f8"/>
<rect x="411.09" y="520.03" width="6.51" height="6.39" fill="#d4d4f8"/>
<rect x="417.55" y="520.03" width="6.51" height="6.39" fill="#d4d4f8"/>
<rect x="424.01" y="520.03" width="6.51" height="6.39" fill="#a8a8f4"/>
<rect x="430.47" y="520.03" width="6.51" height="6.39" fill="#6262ee"/>
<rect x="436.93" y="520.03" width="6.51" height="6.39" fill="#6262ee"/>
<rect x="443.39" y="520.03" width="6.51" height="6.39" fill="#a8a8f4"/>
<rect x="449.85" y="520.03" width="6.51" height="6.39" fill="#6262ee"/>
<rect x="456.31" y="520.03" width="6.51" height="6.39" fill="#cdcdc4"/>
<rect x="462.76" y="520.03" width="6.51" height="6.39" fill="#a8a8f4"/>
<rect x="469.22" y="520.03" width="6.51" height="6.39" fill="#6262ee"/>
<rect x="475.68" y="520.03" width="6.51" height="6.39" fill="#f6f4f8"/>
<rect x="482.14" y="520.03" width="6.51" height="6.39" fill="#d4d4f8"/>
<rect x="378.80" y="526.37" width="6.51" height="6.39" fill="#a8a8f4"/>
<rect x="385.26" y="526.37" width="6.51" height="6.39" fill="#a8a8f4"/>
<rect x="391.72" y="526.37" width="6.51" height="6.39" fill="#a8a8f4"/>
<rect x="398.18" y="526.37" width="6.51" height="6.39" fill="#d4d4f8"/>
<rect x="404.64" y="526.37" width="6.51" height="6.39" fill="#d4d4f8"/>
<rect x="411.09" y="526.37" width="6.51" height="6.39" fill="#f6f4f8"/>
<rect x="417.55" y="526.37" width="6.51" height="6.39" fill="#f6f4f8"/>
<rect x="424.01" y="526.37" width="6.51" height="6.39" fill="#6262ee"/>
<rect x="430.47" y="526.37" width="6.51" height="6.39" fill="#a8a8f4"/>
<rect x="436.93" y="526.37" width="6.51" height="6.39" fill="#cdcdc4"/>
<rect x="443.39" y="526.37" width="6.51" height="6.39" fill="#6262ee"/>
<rect x="449.85" y="526.37" width="6.51" height="6.39" fill="#cdcdc4"/>
<rect x="456.31" y="526.37" width="6.51" height="6.39" fill="#0a0aea"/>
<rect x="462.76" y="526.37" width="6.51" height="6.39" fill="#a8a8f4"/>
<rect x="469.22" y="526.37" width="6.51" height="6.39" fill="#a8a8f4"/>
<rect x="475.68" y="526.37" width="6.51" height="6.39" fill="#a8a8f4"/>
<rect x="482.14" y="526.37" width="6.51" height="6.39" fill="#d4d4f8"/>
<rect x="378.80" y="532.70" width="6.51" height="6.39" fill="#f8d8d6"/>
<rect x="385.26" y="532.70" width="6.51" height="6.39" fill="#d4d4f8"/>
<rect x="391.72" y="532.70" width="6.51" height="6.39" fill="#a8a8f4"/>
<rect x="398.18" y="532.70" width="6.51" height="6.39" fill="#f8d8d6"/>
<rect x="404.64" y="532.70" width="6.51" height="6.39" fill="#cdcdc4"/>
<rect x="411.09" y="532.70" width="6.51" height="6.39" fill="#a8a8f4"/>
<rect x="417.55" y="532.70" width="6.51" height="6.39" fill="#a8a8f4"/>
<rect x="424.01" y="532.70" width="6.51" height="6.39" fill="#6262ee"/>
<rect x="430.47" y="532.70" width="6.51" height="6.39" fill="#f6f4f8"/>
<rect x="436.93" y="532.70" width="6.51" height="6.39" fill="#6262ee"/>
<rect x="443.39" y="532.70" width="6.51" height="6.39" fill="#d4d4f8"/>
<rect x="449.85" y="532.70" width="6.51" height="6.39" fill="#a8a8f4"/>
<rect x="456.31" y="532.70" width="6.51" height="6.39" fill="#cdcdc4"/>
<rect x="462.76" y="532.70" width="6.51" height="6.39" fill="#cdcdc4"/>
<rect x="469.22" y="532.70" width="6.51" height="6.39" fill="#0a0aea"/>
<rect x="475.68" y="532.70" width="6.51" height="6.39" fill="#0a0aea"/>
<rect x="482.14" y="532.70" width="6.51" height="6.39" fill="#0a0aea"/>
<rect x="378.80" y="539.04" width="6.51" height="6.39" fill="#6262ee"/>
<rect x="385.26" y="539.04" width="6.51" height="6.39" fill="#cdcdc4"/>
<rect x="391.72" y="539.04" width="6.51" height="6.39" fill="#f8d8d6"/>
<rect x="398.18" y="539.04" width="6.51" height="6.39" fill="#6262ee"/>
<rect x="404.64" y="539.04" width="6.51" height="6.39" fill="#0a0aea"/>
<rect x="411.09" y="539.04" width="6.51" height="6.39" fill="#6262ee"/>
<rect x="417.55" y="539.04" width="6.51" height="6.39" fill="#6262ee"/>
<rect x="424.01" y="539.04" width="6.51" height="6.39" fill="#a8a8f4"/>
<rect x="430.47" y="539.04" width="6.51" height="6.39" fill="#0a0aea"/>
<rect x="436.93" y="539.04" width="6.51" height="6.39" fill="#6262ee"/>
<rect x="443.39" y="539.04" width="6.51" height="6.39" fill="#6262ee"/>
<rect x="449.85" y="539.04" width="6.51" height="6.39" fill="#a8a8f4"/>
<rect x="456.31" y="539.04" width="6.51" height="6.39" fill="#0a0aea"/>
<rect x="462.76" y="539.04" width="6.51" height="6.39" fill="#6262ee"/>
<rect x="469.22" y="539.04" width="6.51" height="6.39" fill="#0a0aea"/>
<rect x="475.68" y="539.04" width="6.51" height="6.39" fill="#0a0aea"/>
<rect x="482.14" y="539.04" width="6.51" height="6.39" fill="#6262ee"/>
<rect x="378.80" y="545.38" width="6.51" height="6.39" fill="#f6f4f8"/>
<rect x="385.26" y="545.38" width="6.51" height="6.39" fill="#cdcdc4"/>
<rect x="391.72" y="545.38" width="6.51" height="6.39" fill="#a8a8f4"/>
<rect x="398.18" y="545.38" width="6.51" height="6.39" fill="#6262ee"/>
<rect x="404.64" y="545.38" width="6.51" height="6.39" fill="#6262ee"/>
<rect x="411.09" y="545.38" width="6.51" height="6.39" fill="#6262ee"/>
<rect x="417.55" y="545.38" width="6.51" height="6.39" fill="#6262ee"/>
<rect x="424.01" y="545.38" width="6.51" height="6.39" fill="#a8a8f4"/>
<rect x="430.47" y="545.38" width="6.51" height="6.39" fill="#0a0aea"/>
<rect x="436.93" y="545.38" width="6.51" height="6.39" fill="#a8a8f4"/>
<rect x="443.39" y="545.38" width="6.51" height="6.39" fill="#6262ee"/>
<rect x="449.85" y="545.38" width="6.51" height="6.39" fill="#d4d4f8"/>
<rect x="456.31" y="545.38" width="6.51" height="6.39" fill="#cdcdc4"/>
<rect x="462.76" y="545.38" width="6.51" height="6.39" fill="#d4d4f8"/>
<rect x="469.22" y="545.38" width="6.51" height="6.39" fill="#a8a8f4"/>
<rect x="475.68" y="545.38" width="6.51" height="6.39" fill="#0a0aea"/>
<rect x="482.14" y="545.38" width="6.51" height="6.39" fill="#0a0aea"/>
<rect x="378.80" y="551.72" width="6.51" height="6.39" fill="#f8d8d6"/>
<rect x="385.26" y="551.72" width="6.51" height="6.39" fill="#d4d4f8"/>
<rect x="391.72" y="551.72" width="6.51" height="6.39" fill="#a8a8f4"/>
<rect x="398.18" y="551.72" width="6.51" height="6.39" fill="#0a0aea"/>
<rect x="404.64" y="551.72" width="6.51" height="6.39" fill="#cdcdc4"/>
<rect x="411.09" y="551.72" width="6.51" height="6.39" fill="#0a0aea"/>
<rect x="417.55" y="551.72" width="6.51" height="6.39" fill="#cdcdc4"/>
<rect x="424.01" y="551.72" width="6.51" height="6.39" fill="#6262ee"/>
<rect x="430.47" y="551.72" width="6.51" height="6.39" fill="#cdcdc4"/>
<rect x="436.93" y="551.72" width="6.51" height="6.39" fill="#cdcdc4"/>
<rect x="443.39" y="551.72" width="6.51" height="6.39" fill="#0a0aea"/>
<rect x="449.85" y="551.72" width="6.51" height="6.39" fill="#cdcdc4"/>
<rect x="456.31" y="551.72" width="6.51" height="6.39" fill="#cdcdc4"/>
<rect x="462.76" y="551.72" width="6.51" height="6.39" fill="#cdcdc4"/>
<rect x="469.22" y="551.72" width="6.51" height="6.39" fill="#6262ee"/>
<rect x="475.68" y="551.72" width="6.51" height="6.39" fill="#cdcdc4"/>
<rect x="482.14" y="551.72" width="6.51" height="6.39" fill="#cdcdc4"/>
<rect x="378.80" y="558.06" width="6.51" height="6.39" fill="#6262ee"/>
<rect x="385.26" y="558.06" width="6.51" height="6.39" fill="#6262ee"/>
<rect x="391.72" y="558.06" width="6.51" height="6.39" fill="#a8a8f4"/>
<rect x="398.18" y="558.06" width="6.51" height="6.39" fill="#cdcdc4"/>
<rect x="404.64" y="558.06" width="6.51" height="6.39" fill="#cdcdc4"/>
<rect x="411.09" y="558.06" width="6.51" height="6.39" fill="#0a0aea"/>
<rect x="417.55" y="558.06" width="6.51" height="6.39" fill="#0a0aea"/>
<rect x="424.01" y="558.06" width="6.51" height="6.39" fill="#cdcdc4"/>
<rect x="430.47" y="558.06" width="6.51" height="6.39" fill="#0a0aea"/>
<rect x="436.93" y="558.06" width="6.51" height="6.39" fill="#0a0aea"/>
<rect x="443.39" y="558.06" width="6.51" height="6.39" fill="#0a0aea"/>
<rect x="449.85" y="558.06" width="6.51" height="6.39" fill="#0a0aea"/>
<rect x="456.31" y="558.06" width="6.51" height="6.39" fill="#f6f4f8"/>
<rect x="462.76" y="558.06" width="6.51" height="6.39" fill="#0a0aea"/>
<rect x="469.22" y="558.06" width="6.51" height="6.39" fill="#0a0aea"/>
<rect x="475.68" y="558.06" width="6.51" height="6.39" fill="#0a0aea"/>
<rect x="482.14" y="558.06" width="6.51" height="6.39" fill="#0a0aea"/>
<rect x="378.80" y="564.40" width="6.51" height="6.39" fill="#a8a8f4"/>
<rect x="385.26" y="564.40" width="6.51" height="6.39" fill="#6262ee"/>
<rect x="391.72" y="564.40" width="6.51" height="6.39" fill="#d4d4f8"/>
<rect x="398.18" y="564.40" width="6.51" height="6.39" fill="#d4d4f8"/>
<rect x="404.64" y="564.40" width="6.51" height="6.39" fill="#cdcdc4"/>
<rect x="411.09" y="564.40" width="6.51" height="6.39" fill="#d4d4f8"/>
<rect x="417.55" y="564.40" width="6.51" height="6.39" fill="#a8a8f4"/>
<rect x="424.01" y="564.40" width="6.51" height="6.39" fill="#d4d4f8"/>
<rect x="430.47" y="564.40" width="6.51" height="6.39" fill="#d4d4f8"/>
<rect x="436.93" y="564.40" width="6.51" height="6.39" fill="#d4d4f8"/>
<rect x="443.39" y="564.40" width="6.51" height="6.39" fill="#6262ee"/>
<rect x="449.85" y="564.40" width="6.51" height="6.39" fill="#a8a8f4"/>
<rect x="456.31" y="564.40" width="6.51" height="6.39" fill="#6262ee"/>
<rect x="462.76" y="564.40" width="6.51" height="6.39" fill="#a8a8f4"/>
<rect x="469.22" y="564.40" width="6.51" height="6.39" fill="#a8a8f4"/>
<rect x="475.68" y="564.40" width="6.51" height="6.39" fill="#a8a8f4"/>
<rect x="482.14" y="564.40" width="6.51" height="6.39" fill="#d4d4f8"/>
<rect x="378.80" y="570.73" width="6.51" height="6.39" fill="#f4b0aa"/>
<rect x="385.26" y="570.73" width="6.51" height="6.39" fill="#6262ee"/>
<rect x="391.72" y="570.73" width="6.51" height="6.39" fill="#cdcdc4"/>
<rect x="398.18" y="570.73" width="6.51" height="6.39" fill="#cdcdc4"/>
<rect x="404.64" y="570.73" width="6.51" height="6.39" fill="#cdcdc4"/>
<rect x="411.09" y="570.73" width="6.51" height="6.39" fill="#d4d4f8"/>
<rect x="417.55" y="570.73" width="6.51" height="6.39" fill="#6262ee"/>
<rect x="424.01" y="570.73" width="6.51" height="6.39" fill="#d4d4f8"/>
<rect x="430.47" y="570.73" width="6.51" height="6.39" fill="#cdcdc4"/>
<rect x="436.93" y="570.73" width="6.51" height="6.39" fill="#d4d4f8"/>
<rect x="443.39" y="570.73" width="6.51" height="6.39" fill="#0a0aea"/>
<rect x="449.85" y="570.73" width="6.51" height="6.39" fill="#a8a8f4"/>
<rect x="456.31" y="570.73" width="6.51" height="6.39" fill="#6262ee"/>
<rect x="462.76" y="570.73" width="6.51" height="6.39" fill="#a8a8f4"/>
<rect x="469.22" y="570.73" width="6.51" height="6.39" fill="#0a0aea"/>
<rect x="475.68" y="570.73" width="6.51" height="6.39" fill="#cdcdc4"/>
<rect x="482.14" y="570.73" width="6.51" height="6.39" fill="#a8a8f4"/>
<rect x="378.80" y="577.07" width="6.51" height="6.39" fill="#f8d8d6"/>
<rect x="385.26" y="577.07" width="6.51" height="6.39" fill="#a8a8f4"/>
<rect x="391.72" y="577.07" width="6.51" height="6.39" fill="#6262ee"/>
<rect x="398.18" y="577.07" width="6.51" height="6.39" fill="#d4d4f8"/>
<rect x="404.64" y="577.07" width="6.51" height="6.39" fill="#cdcdc4"/>
<rect x="411.09" y="577.07" width="6.51" height="6.39" fill="#d4d4f8"/>
<rect x="417.55" y="577.07" width="6.51" height="6.39" fill="#a8a8f4"/>
<rect x="424.01" y="577.07" width="6.51" height="6.39" fill="#d4d4f8"/>
<rect x="430.47" y="577.07" width="6.51" height="6.39" fill="#0a0aea"/>
<rect x="436.93" y="577.07" width="6.51" height="6.39" fill="#a8a8f4"/>
<rect x="443.39" y="577.07" width="6.51" height="6.39" fill="#a8a8f4"/>
<rect x="449.85" y="577.07" width="6.51" height="6.39" fill="#a8a8f4"/>
<rect x="456.31" y="577.07" width="6.51" height="6.39" fill="#d4d4f8"/>
<rect x="462.76" y="577.07" width="6.51" height="6.39" fill="#a8a8f4"/>
<rect x="469.22" y="577.07" width="6.51" height="6.39" fill="#a8a8f4"/>
<rect x="475.68" y="577.07" width="6.51" height="6.39" fill="#6262ee"/>
<rect x="482.14" y="577.07" width="6.51" height="6.39" fill="#d4d4f8"/>
<rect x="378.80" y="583.41" width="6.51" height="6.39" fill="#0a0aea"/>
<rect x="385.26" y="583.41" width="6.51" height="6.39" fill="#f6f4f8"/>
<rect x="391.72" y="583.41" width="6.51" height="6.39" fill="#f6f4f8"/>
<rect x="398.18" y="583.41" width="6.51" height="6.39" fill="#f6f4f8"/>
<rect x="404.64" y="583.41" width="6.51" height="6.39" fill="#a8a8f4"/>
<rect x="411.09" y="583.41" width="6.51" height="6.39" fill="#ee7a70"/>
<rect x="417.55" y="583.41" width="6.51" height="6.39" fill="#0a0aea"/>
<rect x="424.01" y="583.41" width="6.51" height="6.39" fill="#6262ee"/>
<rect x="430.47" y="583.41" width="6.51" height="6.39" fill="#d4d4f8"/>
<rect x="436.93" y="583.41" width="6.51" height="6.39" fill="#0a0aea"/>
<rect x="443.39" y="583.41" width="6.51" height="6.39" fill="#0a0aea"/>
<rect x="449.85" y="583.41" width="6.51" height="6.39" fill="#0a0aea"/>
<rect x="456.31" y="583.41" width="6.51" height="6.39" fill="#cdcdc4"/>
<rect x="462.76" y="583.41" width="6.51" height="6.39" fill="#0a0aea"/>
<rect x="469.22" y="583.41" width="6.51" height="6.39" fill="#6262ee"/>
<rect x="475.68" y="583.41" width="6.51" height="6.39" fill="#cdcdc4"/>
<rect x="482.14" y="583.41" width="6.51" height="6.39" fill="#0a0aea"/>
<rect x="378.80" y="589.75" width="6.51" height="6.39" fill="#d4d4f8"/>
<rect x="385.26" y="589.75" width="6.51" height="6.39" fill="#0a0aea"/>
<rect x="391.72" y="589.75" width="6.51" height="6.39" fill="#cdcdc4"/>
<rect x="398.18" y="589.75" width="6.51" height="6.39" fill="#6262ee"/>
<rect x="404.64" y="589.75" width="6.51" height="6.39" fill="#6262ee"/>
<rect x="411.09" y="589.75" width="6.51" height="6.39" fill="#f8d8d6"/>
<rect x="417.55" y="589.75" width="6.51" height="6.39" fill="#f8d8d6"/>
<rect x="424.01" y="589.75" width="6.51" height="6.39" fill="#d4d4f8"/>
<rect x="430.47" y="589.75" width="6.51" height="6.39" fill="#0a0aea"/>
<rect x="436.93" y="589.75" width="6.51" height="6.39" fill="#6262ee"/>
<rect x="443.39" y="589.75" width="6.51" height="6.39" fill="#0a0aea"/>
<rect x="449.85" y="589.75" width="6.51" height="6.39" fill="#0a0aea"/>
<rect x="456.31" y="589.75" width="6.51" height="6.39" fill="#0a0aea"/>
<rect x="462.76" y="589.75" width="6.51" height="6.39" fill="#0a0aea"/>
<rect x="469.22" y="589.75" width="6.51" height="6.39" fill="#6262ee"/>
<rect x="475.68" y="589.75" width="6.51" height="6.39" fill="#f6f4f8"/>
<rect x="482.14" y="589.75" width="6.51" height="6.39" fill="#d4d4f8"/>
<rect x="378.80" y="596.09" width="6.51" height="6.39" fill="#f4b0aa"/>
<rect x="385.26" y="596.09" width="6.51" height="6.39" fill="#d4d4f8"/>
<rect x="391.72" y="596.09" width="6.51" height="6.39" fill="#f6f4f8"/>
<rect x="398.18" y="596.09" width="6.51" height="6.39" fill="#d4d4f8"/>
<rect x="404.64" y="596.09" width="6.51" height="6.39" fill="#d4d4f8"/>
<rect x="411.09" y="596.09" width="6.51" height="6.39" fill="#f6f4f8"/>
<rect x="417.55" y="596.09" width="6.51" height="6.39" fill="#6262ee"/>
<rect x="424.01" y="596.09" width="6.51" height="6.39" fill="#f8d8d6"/>
<rect x="430.47" y="596.09" width="6.51" height="6.39" fill="#6262ee"/>
<rect x="436.93" y="596.09" width="6.51" height="6.39" fill="#f8d8d6"/>
<rect x="443.39" y="596.09" width="6.51" height="6.39" fill="#d4d4f8"/>
<rect x="449.85" y="596.09" width="6.51" height="6.39" fill="#ee7a70"/>
<rect x="456.31" y="596.09" width="6.51" height="6.39" fill="#cdcdc4"/>
<rect x="462.76" y="596.09" width="6.51" height="6.39" fill="#0a0aea"/>
<rect x="469.22" y="596.09" width="6.51" height="6.39" fill="#d4d4f8"/>
<rect x="475.68" y="596.09" width="6.51" height="6.39" fill="#d4d4f8"/>
<rect x="482.14" y="596.09" width="6.51" height="6.39" fill="#f6f4f8"/>
<rect x="378.80" y="602.42" width="6.51" height="6.39" fill="#f8d8d6"/>
<rect x="385.26" y="602.42" width="6.51" height="6.39" fill="#a8a8f4"/>
<rect x="391.72" y="602.42" width="6.51" height="6.39" fill="#6262ee"/>
<rect x="398.18" y="602.42" width="6.51" height="6.39" fill="#ee7a70"/>
<rect x="404.64" y="602.42" width="6.51" height="6.39" fill="#f4b0aa"/>
<rect x="411.09" y="602.42" width="6.51" height="6.39" fill="#f8d8d6"/>
<rect x="417.55" y="602.42" width="6.51" height="6.39" fill="#f8d8d6"/>
<rect x="424.01" y="602.42" width="6.51" height="6.39" fill="#f6f4f8"/>
<rect x="430.47" y="602.42" width="6.51" height="6.39" fill="#d4d4f8"/>
<rect x="436.93" y="602.42" width="6.51" height="6.39" fill="#f6f4f8"/>
<rect x="443.39" y="602.42" width="6.51" height="6.39" fill="#f6f4f8"/>
<rect x="449.85" y="602.42" width="6.51" height="6.39" fill="#f8d8d6"/>
<rect x="456.31" y="602.42" width="6.51" height="6.39" fill="#d4d4f8"/>
<rect x="462.76" y="602.42" width="6.51" height="6.39" fill="#6262ee"/>
<rect x="469.22" y="602.42" width="6.51" height="6.39" fill="#d4d4f8"/>
<rect x="475.68" y="602.42" width="6.51" height="6.39" fill="#f6f4f8"/>
<rect x="482.14" y="602.42" width="6.51" height="6.39" fill="#f4b0aa"/>
<rect x="378.80" y="608.76" width="6.51" height="6.39" fill="#f4b0aa"/>
<rect x="385.26" y="608.76" width="6.51" height="6.39" fill="#d4d4f8"/>
<rect x="391.72" y="608.76" width="6.51" height="6.39" fill="#f6f4f8"/>
<rect x="398.18" y="608.76" width="6.51" height="6.39" fill="#ee7a70"/>
<rect x="404.64" y="608.76" width="6.51" height="6.39" fill="#f8d8d6"/>
<rect x="411.09" y="608.76" width="6.51" height="6.39" fill="#f8d8d6"/>
<rect x="417.55" y="608.76" width="6.51" height="6.39" fill="#a8a8f4"/>
<rect x="424.01" y="608.76" width="6.51" height="6.39" fill="#f8d8d6"/>
<rect x="430.47" y="608.76" width="6.51" height="6.39" fill="#a8a8f4"/>
<rect x="436.93" y="608.76" width="6.51" height="6.39" fill="#a8a8f4"/>
<rect x="443.39" y="608.76" width="6.51" height="6.39" fill="#d4d4f8"/>
<rect x="449.85" y="608.76" width="6.51" height="6.39" fill="#d4d4f8"/>
<rect x="456.31" y="608.76" width="6.51" height="6.39" fill="#a8a8f4"/>
<rect x="462.76" y="608.76" width="6.51" height="6.39" fill="#a8a8f4"/>
<rect x="469.22" y="608.76" width="6.51" height="6.39" fill="#d4d4f8"/>
<rect x="475.68" y="608.76" width="6.51" height="6.39" fill="#f6f4f8"/>
<rect x="482.14" y="608.76" width="6.51" height="6.39" fill="#d4d4f8"/>
<rect x="378.8" y="482.0" width="109.80000000000001" height="133.10000000000002" fill="none" stroke="#333" stroke-width="1.0" />
<text transform="translate(491.4,486.87)" font-size="4.0" font-weight="400" text-anchor="start" fill="#d04848" >HCG11</text>
<text transform="translate(491.4,493.21)" font-size="4.0" font-weight="400" text-anchor="start" fill="#3838a8" >AC105339.1</text>
<text transform="translate(491.4,499.55)" font-size="4.0" font-weight="400" text-anchor="start" fill="#3838a8" >AC103746.1</text>
<text transform="translate(491.4,505.88)" font-size="4.0" font-weight="400" text-anchor="start" fill="#3838a8" >Z99550.1</text>
<text transform="translate(491.4,512.22)" font-size="4.0" font-weight="400" text-anchor="start" fill="#3838a8" >C8orf14</text>
<text transform="translate(491.4,518.56)" font-size="4.0" font-weight="400" text-anchor="start" fill="#c89050" >AC105320.2</text>
<text transform="translate(491.4,524.9)" font-size="4.0" font-weight="400" text-anchor="start" fill="#3838a8" >AL356416.2</text>
<text transform="translate(491.4,531.24)" font-size="4.0" font-weight="400" text-anchor="start" fill="#3838a8" >RP11-706O15.1</text>
<text transform="translate(491.4,537.57)" font-size="4.0" font-weight="400" text-anchor="start" fill="#3838a8" >AC017076.3</text>
<text transform="translate(491.4,543.91)" font-size="4.0" font-weight="400" text-anchor="start" fill="#3838a8" >RP11-430G6.2</text>
<text transform="translate(491.4,550.25)" font-size="4.0" font-weight="400" text-anchor="start" fill="#d04848" >C21orf88</text>
<text transform="translate(491.4,556.59)" font-size="4.0" font-weight="400" text-anchor="start" fill="#d04848" >AC103546.1</text>
<text transform="translate(491.4,562.93)" font-size="4.0" font-weight="400" text-anchor="start" fill="#3838a8" >AL513543.1</text>
<text transform="translate(491.4,569.26)" font-size="4.0" font-weight="400" text-anchor="start" fill="#d04848" >AC114250.5</text>
<text transform="translate(491.4,575.6)" font-size="4.0" font-weight="400" text-anchor="start" fill="#3838a8" >AL390EA8.1</text>
<text transform="translate(491.4,581.94)" font-size="4.0" font-weight="400" text-anchor="start" fill="#3838a8" >AL162072.1</text>
<text transform="translate(491.4,588.28)" font-size="4.0" font-weight="400" text-anchor="start" fill="#3838a8" >AC120571.2</text>
<text transform="translate(491.4,594.62)" font-size="4.0" font-weight="400" text-anchor="start" fill="#3838a8" >AL354671.1</text>
<text transform="translate(491.4,600.95)" font-size="4.0" font-weight="400" text-anchor="start" fill="#d04848" >AC104052.1</text>
<text transform="translate(491.4,607.29)" font-size="4.0" font-weight="400" text-anchor="start" fill="#3838a8" >AC090796.1</text>
<text transform="translate(491.4,613.63)" font-size="4.0" font-weight="400" text-anchor="start" fill="#d04848" >AC108931.2</text>
<text transform="translate(382.23,480.5) rotate(-45)" font-size="4.0" fill="#3a3a3a" stroke="#3a3a3a" stroke-width="0.12">Thymus</text>
<text transform="translate(388.69,480.5) rotate(-45)" font-size="4.0" fill="#3a3a3a" stroke="#3a3a3a" stroke-width="0.12">PBMC</text>
<text transform="translate(395.15,480.5) rotate(-45)" font-size="4.0" fill="#3a3a3a" stroke="#3a3a3a" stroke-width="0.12">Lymph node</text>
<text transform="translate(401.61,480.5) rotate(-45)" font-size="4.0" fill="#3a3a3a" stroke="#3a3a3a" stroke-width="0.12">Placenta</text>
<text transform="translate(408.06,480.5) rotate(-45)" font-size="4.0" fill="#3a3a3a" stroke="#3a3a3a" stroke-width="0.12">Skeletal muscle cell</text>
<text transform="translate(414.52,480.5) rotate(-45)" font-size="4.0" fill="#3a3a3a" stroke="#3a3a3a" stroke-width="0.12">Prostate</text>
<text transform="translate(420.98,480.5) rotate(-45)" font-size="4.0" fill="#3a3a3a" stroke="#3a3a3a" stroke-width="0.12">Testis</text>
<text transform="translate(427.44,480.5) rotate(-45)" font-size="4.0" fill="#3a3a3a" stroke="#3a3a3a" stroke-width="0.12">Spleen</text>
<text transform="translate(433.90,480.5) rotate(-45)" font-size="4.0" fill="#3a3a3a" stroke="#3a3a3a" stroke-width="0.12">Colon</text>
<text transform="translate(440.36,480.5) rotate(-45)" font-size="4.0" fill="#3a3a3a" stroke="#3a3a3a" stroke-width="0.12">Heart</text>
<text transform="translate(446.82,480.5) rotate(-45)" font-size="4.0" fill="#3a3a3a" stroke="#3a3a3a" stroke-width="0.12">Kidney</text>
<text transform="translate(453.28,480.5) rotate(-45)" font-size="4.0" fill="#3a3a3a" stroke="#3a3a3a" stroke-width="0.12">Liver</text>
<text transform="translate(459.74,480.5) rotate(-45)" font-size="4.0" fill="#3a3a3a" stroke="#3a3a3a" stroke-width="0.12">Adipose tissue</text>
<text transform="translate(466.19,480.5) rotate(-45)" font-size="4.0" fill="#3a3a3a" stroke="#3a3a3a" stroke-width="0.12">Lung</text>
<text transform="translate(472.65,480.5) rotate(-45)" font-size="4.0" fill="#3a3a3a" stroke="#3a3a3a" stroke-width="0.12">Breast</text>
<text transform="translate(479.11,480.5) rotate(-45)" font-size="4.0" fill="#3a3a3a" stroke="#3a3a3a" stroke-width="0.12">Ovary</text>
<text transform="translate(485.57,480.5) rotate(-45)" font-size="4.0" fill="#3a3a3a" stroke="#3a3a3a" stroke-width="0.12">Brain</text>
<rect x="381.5" y="627.2" width="7.28" height="6.2" fill="#0a0aea" />
<rect x="388.73" y="627.2" width="7.28" height="6.2" fill="#6262ee" />
<rect x="395.96" y="627.2" width="7.28" height="6.2" fill="#a8a8f4" />
<rect x="403.19" y="627.2" width="7.28" height="6.2" fill="#ffffff" />
<rect x="410.41" y="627.2" width="7.28" height="6.2" fill="#f4b0aa" />
<rect x="417.64" y="627.2" width="7.28" height="6.2" fill="#ee6a60" />
<rect x="424.87" y="627.2" width="7.28" height="6.2" fill="#e81818" />
<rect x="381.5" y="627.2" width="50.60000000000002" height="6.2" fill="none" stroke="#333" stroke-width="0.6" />
<text transform="translate(406,624.2)" font-size="4.3" font-weight="400" text-anchor="middle" fill="#444" >log2(relative expression)</text>
<text transform="translate(385,638.5)" font-size="4.3" font-weight="400" text-anchor="middle" fill="#333" stroke="#333" stroke-width="0.086" >-5</text>
<text transform="translate(407,638.5)" font-size="4.3" font-weight="400" text-anchor="middle" fill="#333" stroke="#333" stroke-width="0.086" >0</text>
<text transform="translate(428.8,638.5)" font-size="4.3" font-weight="400" text-anchor="middle" fill="#333" stroke="#333" stroke-width="0.086" >5</text>
<rect x="451.8" y="627.4" width="6.6" height="5.8" fill="#cdcdc4" stroke="#333" stroke-width="0.8" />
<text transform="translate(461.5,632.2)" font-size="4.15" font-weight="400" text-anchor="start" fill="#3a3a3a" stroke="#3a3a3a" stroke-width="0.05" >No detectable expression</text></svg>
</body></html>
